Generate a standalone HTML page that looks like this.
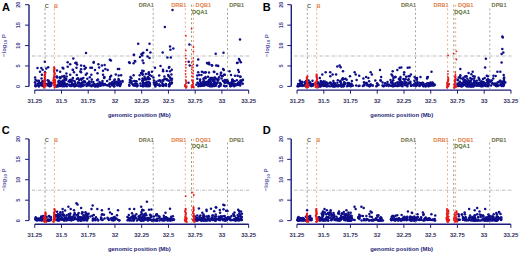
<!DOCTYPE html><html><head><meta charset="utf-8"><style>html,body{margin:0;padding:0;background:#fff;width:520px;height:255px;overflow:hidden}svg{display:block;font-family:"Liberation Sans",sans-serif}</style></head><body>
<svg width="520" height="255" viewBox="0 0 520 255">
<defs><g id="tpl"><path d="M29 4.70V86.40" stroke="#1c1c7c" stroke-width="1.4" fill="none"/><path d="M25 86.40H29" stroke="#1c1c7c" stroke-width="1" fill="none"/><text transform="translate(20.4 86.40) rotate(-90)" text-anchor="middle" font-size="5.6" font-weight="bold" fill="#3a3a8a">0</text><path d="M25 65.98H29" stroke="#1c1c7c" stroke-width="1" fill="none"/><text transform="translate(20.4 65.98) rotate(-90)" text-anchor="middle" font-size="5.6" font-weight="bold" fill="#3a3a8a">5</text><path d="M25 45.55H29" stroke="#1c1c7c" stroke-width="1" fill="none"/><text transform="translate(20.4 45.55) rotate(-90)" text-anchor="middle" font-size="5.6" font-weight="bold" fill="#3a3a8a">10</text><path d="M25 25.13H29" stroke="#1c1c7c" stroke-width="1" fill="none"/><text transform="translate(20.4 25.13) rotate(-90)" text-anchor="middle" font-size="5.6" font-weight="bold" fill="#3a3a8a">15</text><path d="M25 4.70H29" stroke="#1c1c7c" stroke-width="1" fill="none"/><text transform="translate(20.4 4.70) rotate(-90)" text-anchor="middle" font-size="5.6" font-weight="bold" fill="#3a3a8a">20</text><text transform="translate(6.2 45.6) rotate(-90)" text-anchor="middle" font-size="6.0" font-weight="bold" fill="#5a5aa8">&#8722;log<tspan font-size="4.2" dy="1.2">10</tspan><tspan dy="-1.2"> P</tspan></text><path d="M34.75 90.1H248.65" stroke="#1c1c7c" stroke-width="1.4" fill="none"/><path d="M34.75 90V93.7" stroke="#1c1c7c" stroke-width="1" fill="none"/><text x="34.75" y="102.6" text-anchor="middle" font-size="5.9" font-weight="bold" fill="#303060">31.25</text><path d="M61.49 90V93.7" stroke="#1c1c7c" stroke-width="1" fill="none"/><text x="61.49" y="102.6" text-anchor="middle" font-size="5.9" font-weight="bold" fill="#303060">31.5</text><path d="M88.22 90V93.7" stroke="#1c1c7c" stroke-width="1" fill="none"/><text x="88.22" y="102.6" text-anchor="middle" font-size="5.9" font-weight="bold" fill="#303060">31.75</text><path d="M114.96 90V93.7" stroke="#1c1c7c" stroke-width="1" fill="none"/><text x="114.96" y="102.6" text-anchor="middle" font-size="5.9" font-weight="bold" fill="#303060">32</text><path d="M141.70 90V93.7" stroke="#1c1c7c" stroke-width="1" fill="none"/><text x="141.70" y="102.6" text-anchor="middle" font-size="5.9" font-weight="bold" fill="#303060">32.25</text><path d="M168.44 90V93.7" stroke="#1c1c7c" stroke-width="1" fill="none"/><text x="168.44" y="102.6" text-anchor="middle" font-size="5.9" font-weight="bold" fill="#303060">32.5</text><path d="M195.18 90V93.7" stroke="#1c1c7c" stroke-width="1" fill="none"/><text x="195.18" y="102.6" text-anchor="middle" font-size="5.9" font-weight="bold" fill="#303060">32.75</text><path d="M221.91 90V93.7" stroke="#1c1c7c" stroke-width="1" fill="none"/><text x="221.91" y="102.6" text-anchor="middle" font-size="5.9" font-weight="bold" fill="#303060">33</text><path d="M248.65 90V93.7" stroke="#1c1c7c" stroke-width="1" fill="none"/><text x="248.65" y="102.6" text-anchor="middle" font-size="5.9" font-weight="bold" fill="#303060">33.25</text><text x="139.4" y="116.8" text-anchor="middle" font-size="5.9" font-weight="bold" fill="#1e1e78">genomic position (Mb)</text><path d="M32 56H250" stroke="#9a9a9a" stroke-width="0.7" stroke-dasharray="3 1.3 0.7 1.3" fill="none"/><path d="M45.0 8.5V89" stroke="#606050" stroke-width="0.75" stroke-dasharray="1.8 2.6" fill="none" opacity="0.9"/><text x="44.7" y="7.5" text-anchor="start" font-size="5.6" font-weight="bold" fill="#606050">C</text><path d="M54.4 8.5V89" stroke="#e08048" stroke-width="0.75" stroke-dasharray="1.8 2.6" fill="none" opacity="0.9"/><text x="54.1" y="7.5" text-anchor="start" font-size="5.6" font-weight="bold" fill="#e08048">B</text><path d="M153.2 8.5V89" stroke="#70704a" stroke-width="0.75" stroke-dasharray="1.8 2.6" fill="none" opacity="0.9"/><text x="153.9" y="7.4" text-anchor="end" font-size="5.6" font-weight="bold" fill="#70704a">DRA1</text><path d="M185.3 8.5V89" stroke="#e08048" stroke-width="0.75" stroke-dasharray="1.8 2.6" fill="none" opacity="0.9"/><text x="186.4" y="7.4" text-anchor="end" font-size="5.6" font-weight="bold" fill="#e08048">DRB1</text><path d="M191.5 4.8V89" stroke="#4f6b2a" stroke-width="0.75" stroke-dasharray="1.8 2.6" fill="none" opacity="0.9"/><text x="192.0" y="13.8" text-anchor="start" font-size="5.6" font-weight="bold" fill="#4f6b2a">DQA1</text><path d="M193.4 4.8V89" stroke="#e08048" stroke-width="0.75" stroke-dasharray="1.8 2.6" fill="none" opacity="0.9"/><text x="195.6" y="7.4" text-anchor="start" font-size="5.6" font-weight="bold" fill="#e08048">DQB1</text><path d="M227.5 8.5V89" stroke="#70704a" stroke-width="0.75" stroke-dasharray="1.8 2.6" fill="none" opacity="0.9"/><text x="229.3" y="7.4" text-anchor="start" font-size="5.6" font-weight="bold" fill="#70704a">DPB1</text></g></defs>
<g transform="translate(0 0)">
<use href="#tpl"/>
<g fill="#0e0e88"><circle cx="172.5" cy="10.0" r="1.25"/><circle cx="164.9" cy="26.9" r="1.25"/><circle cx="240.0" cy="39.5" r="1.25"/><circle cx="138.2" cy="43.8" r="1.25"/><circle cx="149.5" cy="43.8" r="1.25"/><circle cx="147.0" cy="50.0" r="1.25"/><circle cx="150.4" cy="52.6" r="1.25"/><circle cx="142.6" cy="53.2" r="1.25"/><circle cx="141.5" cy="54.3" r="1.25"/><circle cx="143.4" cy="52.8" r="1.25"/><circle cx="142.2" cy="55.5" r="1.25"/><circle cx="134.0" cy="54.8" r="1.25"/><circle cx="140.0" cy="57.0" r="1.25"/><circle cx="147.6" cy="56.6" r="1.25"/><circle cx="149.5" cy="57.9" r="1.25"/><circle cx="134.8" cy="61.1" r="1.25"/><circle cx="142.6" cy="60.4" r="1.25"/><circle cx="162.7" cy="52.6" r="1.25"/><circle cx="170.0" cy="46.6" r="1.25"/><circle cx="170.4" cy="49.8" r="1.25"/><circle cx="173.3" cy="48.6" r="1.25"/><circle cx="167.4" cy="57.6" r="1.25"/><circle cx="170.8" cy="57.6" r="1.25"/><circle cx="189.4" cy="44.5" r="1.25"/><circle cx="215.7" cy="53.8" r="1.25"/><circle cx="223.5" cy="52.8" r="1.25"/><circle cx="198.2" cy="59.5" r="1.25"/><circle cx="188.7" cy="61.7" r="1.25"/><circle cx="208.9" cy="62.8" r="1.25"/><circle cx="239.0" cy="59.0" r="1.25"/><circle cx="86.0" cy="53.0" r="1.25"/><circle cx="110.9" cy="60.6" r="1.25"/><circle cx="109.8" cy="59.8" r="1.25"/><circle cx="44.8" cy="61.7" r="1.25"/><circle cx="73.3" cy="58.5" r="1.25"/><circle cx="67.7" cy="62.3" r="1.25"/><circle cx="75.9" cy="62.9" r="1.25"/><circle cx="93.8" cy="61.9" r="1.25"/><circle cx="129.2" cy="62.3" r="1.25"/><circle cx="133.8" cy="55.0" r="1.25"/><circle cx="237.6" cy="62.8" r="1.25"/><circle cx="240.8" cy="62.3" r="1.25"/><circle cx="239.8" cy="60.6" r="1.25"/><circle cx="37.5" cy="67.9" r="1.25"/><circle cx="41.3" cy="67.9" r="1.25"/><circle cx="40.0" cy="71.7" r="1.25"/><circle cx="42.6" cy="69.8" r="1.25"/><circle cx="46.3" cy="68.6" r="1.25"/><circle cx="48.2" cy="67.3" r="1.25"/><circle cx="41.9" cy="74.8" r="1.25"/><circle cx="45.0" cy="72.3" r="1.25"/><circle cx="57.0" cy="70.4" r="1.25"/><circle cx="60.2" cy="71.7" r="1.25"/><circle cx="63.3" cy="68.6" r="1.25"/><circle cx="70.2" cy="64.2" r="1.25"/><circle cx="67.7" cy="66.7" r="1.25"/><circle cx="72.7" cy="69.8" r="1.25"/><circle cx="66.4" cy="73.6" r="1.25"/><circle cx="70.2" cy="74.8" r="1.25"/><circle cx="74.0" cy="72.3" r="1.25"/><circle cx="76.4" cy="62.7" r="1.25"/><circle cx="77.1" cy="64.5" r="1.25"/><circle cx="93.6" cy="62.7" r="1.25"/><circle cx="84.2" cy="66.1" r="1.25"/><circle cx="85.8" cy="67.7" r="1.25"/><circle cx="81.1" cy="69.3" r="1.25"/><circle cx="80.3" cy="71.6" r="1.25"/><circle cx="92.0" cy="67.7" r="1.25"/><circle cx="99.1" cy="67.4" r="1.25"/><circle cx="104.6" cy="64.9" r="1.25"/><circle cx="103.0" cy="70.8" r="1.25"/><circle cx="107.7" cy="70.0" r="1.25"/><circle cx="117.9" cy="68.9" r="1.25"/><circle cx="97.5" cy="73.2" r="1.25"/><circle cx="103.0" cy="74.7" r="1.25"/><circle cx="110.1" cy="77.1" r="1.25"/><circle cx="118.7" cy="75.5" r="1.25"/><circle cx="121.1" cy="75.2" r="1.25"/><circle cx="130.5" cy="77.1" r="1.25"/><circle cx="133.6" cy="75.2" r="1.25"/><circle cx="91.3" cy="74.7" r="1.25"/><circle cx="85.8" cy="74.7" r="1.25"/><circle cx="135.2" cy="61.4" r="1.25"/><circle cx="133.6" cy="63.3" r="1.25"/><circle cx="129.7" cy="63.0" r="1.25"/><circle cx="62.6" cy="67.7" r="1.25"/><circle cx="75.3" cy="63.1" r="1.25"/><circle cx="76.5" cy="67.7" r="1.25"/><circle cx="73.0" cy="70.0" r="1.25"/><circle cx="81.1" cy="65.4" r="1.25"/><circle cx="84.6" cy="68.9" r="1.25"/><circle cx="81.1" cy="72.3" r="1.25"/><circle cx="86.9" cy="73.5" r="1.25"/><circle cx="90.4" cy="67.7" r="1.25"/><circle cx="95.0" cy="70.0" r="1.25"/><circle cx="98.4" cy="64.2" r="1.25"/><circle cx="101.9" cy="65.4" r="1.25"/><circle cx="105.4" cy="68.9" r="1.25"/><circle cx="119.2" cy="68.9" r="1.25"/><circle cx="111.1" cy="75.8" r="1.25"/><circle cx="115.8" cy="74.6" r="1.25"/><circle cx="143.5" cy="63.1" r="1.25"/><circle cx="155.0" cy="67.7" r="1.25"/><circle cx="163.1" cy="71.2" r="1.25"/><circle cx="168.9" cy="67.7" r="1.25"/><circle cx="170.0" cy="71.2" r="1.25"/><circle cx="207.0" cy="63.1" r="1.25"/><circle cx="209.3" cy="64.2" r="1.25"/><circle cx="216.2" cy="65.4" r="1.25"/><circle cx="223.1" cy="68.9" r="1.25"/><circle cx="237.0" cy="63.1" r="1.25"/><circle cx="238.2" cy="70.0" r="1.25"/><circle cx="240.5" cy="80.4" r="1.25"/><circle cx="197.1" cy="65.4" r="1.25"/><circle cx="207.6" cy="63.6" r="1.25"/><circle cx="212.0" cy="65.4" r="1.25"/><circle cx="218.2" cy="66.1" r="1.25"/><circle cx="160.5" cy="66.1" r="1.25"/><circle cx="169.3" cy="67.1" r="1.25"/><circle cx="163.0" cy="69.8" r="1.25"/><circle cx="166.8" cy="71.1" r="1.25"/><circle cx="171.8" cy="69.8" r="1.25"/><circle cx="198.2" cy="72.3" r="1.25"/><circle cx="201.9" cy="71.7" r="1.25"/><circle cx="205.7" cy="72.3" r="1.25"/><circle cx="213.8" cy="71.7" r="1.25"/><circle cx="217.8" cy="65.7" r="1.25"/><circle cx="211.9" cy="65.3" r="1.25"/><circle cx="223.8" cy="70.0" r="1.25"/><circle cx="214.4" cy="72.0" r="1.25"/><circle cx="229.5" cy="71.3" r="1.25"/><circle cx="238.9" cy="72.0" r="1.25"/><circle cx="237.6" cy="75.7" r="1.25"/><circle cx="188.5" cy="82.7" r="1.25"/><circle cx="189.7" cy="65.4" r="1.25"/><circle cx="49.4" cy="86.0" r="1.25"/><circle cx="39.3" cy="82.3" r="1.25"/><circle cx="42.6" cy="84.4" r="1.25"/><circle cx="48.4" cy="83.4" r="1.25"/><circle cx="35.5" cy="86.1" r="1.25"/><circle cx="42.4" cy="81.2" r="1.25"/><circle cx="35.0" cy="82.3" r="1.25"/><circle cx="47.3" cy="84.7" r="1.25"/><circle cx="51.1" cy="85.7" r="1.25"/><circle cx="35.5" cy="79.8" r="1.25"/><circle cx="44.2" cy="86.3" r="1.25"/><circle cx="41.5" cy="78.4" r="1.25"/><circle cx="42.2" cy="85.7" r="1.25"/><circle cx="38.8" cy="86.3" r="1.25"/><circle cx="43.4" cy="84.8" r="1.25"/><circle cx="38.9" cy="85.6" r="1.25"/><circle cx="42.8" cy="85.7" r="1.25"/><circle cx="35.4" cy="85.4" r="1.25"/><circle cx="44.5" cy="81.2" r="1.25"/><circle cx="38.2" cy="83.5" r="1.25"/><circle cx="37.1" cy="80.8" r="1.25"/><circle cx="47.3" cy="85.2" r="1.25"/><circle cx="50.9" cy="82.8" r="1.25"/><circle cx="49.1" cy="84.8" r="1.25"/><circle cx="40.2" cy="83.2" r="1.25"/><circle cx="50.0" cy="83.9" r="1.25"/><circle cx="43.6" cy="81.0" r="1.25"/><circle cx="35.6" cy="83.9" r="1.25"/><circle cx="48.6" cy="85.6" r="1.25"/><circle cx="37.9" cy="84.9" r="1.25"/><circle cx="47.0" cy="84.1" r="1.25"/><circle cx="41.4" cy="83.2" r="1.25"/><circle cx="43.6" cy="84.7" r="1.25"/><circle cx="43.9" cy="82.1" r="1.25"/><circle cx="43.3" cy="85.0" r="1.25"/><circle cx="35.7" cy="86.3" r="1.25"/><circle cx="51.7" cy="82.9" r="1.25"/><circle cx="41.7" cy="83.8" r="1.25"/><circle cx="43.5" cy="85.9" r="1.25"/><circle cx="44.2" cy="82.2" r="1.25"/><circle cx="38.9" cy="80.8" r="1.25"/><circle cx="51.2" cy="84.3" r="1.25"/><circle cx="42.8" cy="83.9" r="1.25"/><circle cx="44.3" cy="85.5" r="1.25"/><circle cx="35.1" cy="77.4" r="1.25"/><circle cx="48.9" cy="82.0" r="1.25"/><circle cx="47.6" cy="80.2" r="1.25"/><circle cx="43.8" cy="81.7" r="1.25"/><circle cx="42.2" cy="84.0" r="1.25"/><circle cx="49.8" cy="86.2" r="1.25"/><circle cx="38.4" cy="84.0" r="1.25"/><circle cx="43.2" cy="84.4" r="1.25"/><circle cx="40.9" cy="85.1" r="1.25"/><circle cx="45.6" cy="84.2" r="1.25"/><circle cx="42.8" cy="83.7" r="1.25"/><circle cx="38.9" cy="86.3" r="1.25"/><circle cx="44.9" cy="85.8" r="1.25"/><circle cx="48.6" cy="80.8" r="1.25"/><circle cx="48.9" cy="81.8" r="1.25"/><circle cx="49.3" cy="85.6" r="1.25"/><circle cx="58.3" cy="81.8" r="1.25"/><circle cx="56.4" cy="86.3" r="1.25"/><circle cx="63.0" cy="80.6" r="1.25"/><circle cx="73.5" cy="85.9" r="1.25"/><circle cx="57.9" cy="84.7" r="1.25"/><circle cx="70.8" cy="85.7" r="1.25"/><circle cx="63.6" cy="85.6" r="1.25"/><circle cx="68.7" cy="81.3" r="1.25"/><circle cx="69.3" cy="84.8" r="1.25"/><circle cx="66.8" cy="86.3" r="1.25"/><circle cx="61.3" cy="84.2" r="1.25"/><circle cx="81.2" cy="85.9" r="1.25"/><circle cx="61.9" cy="83.5" r="1.25"/><circle cx="78.9" cy="82.6" r="1.25"/><circle cx="56.5" cy="86.3" r="1.25"/><circle cx="76.1" cy="85.8" r="1.25"/><circle cx="75.7" cy="85.7" r="1.25"/><circle cx="71.3" cy="81.8" r="1.25"/><circle cx="83.3" cy="85.4" r="1.25"/><circle cx="70.5" cy="79.9" r="1.25"/><circle cx="74.2" cy="85.4" r="1.25"/><circle cx="72.1" cy="84.3" r="1.25"/><circle cx="73.7" cy="84.8" r="1.25"/><circle cx="64.4" cy="86.2" r="1.25"/><circle cx="64.6" cy="77.9" r="1.25"/><circle cx="64.7" cy="78.4" r="1.25"/><circle cx="76.8" cy="75.0" r="1.25"/><circle cx="63.1" cy="84.2" r="1.25"/><circle cx="80.6" cy="86.4" r="1.25"/><circle cx="78.9" cy="86.2" r="1.25"/><circle cx="60.8" cy="82.9" r="1.25"/><circle cx="83.3" cy="78.1" r="1.25"/><circle cx="70.2" cy="81.4" r="1.25"/><circle cx="65.7" cy="84.5" r="1.25"/><circle cx="74.9" cy="85.5" r="1.25"/><circle cx="61.4" cy="84.1" r="1.25"/><circle cx="74.6" cy="85.9" r="1.25"/><circle cx="70.0" cy="85.0" r="1.25"/><circle cx="80.4" cy="84.8" r="1.25"/><circle cx="56.5" cy="77.0" r="1.25"/><circle cx="65.2" cy="85.5" r="1.25"/><circle cx="65.5" cy="80.2" r="1.25"/><circle cx="74.9" cy="85.4" r="1.25"/><circle cx="82.1" cy="79.0" r="1.25"/><circle cx="80.7" cy="84.7" r="1.25"/><circle cx="69.6" cy="81.7" r="1.25"/><circle cx="76.3" cy="85.3" r="1.25"/><circle cx="60.8" cy="86.0" r="1.25"/><circle cx="62.0" cy="76.5" r="1.25"/><circle cx="72.8" cy="80.6" r="1.25"/><circle cx="66.3" cy="78.9" r="1.25"/><circle cx="64.2" cy="84.7" r="1.25"/><circle cx="72.9" cy="78.1" r="1.25"/><circle cx="59.8" cy="77.5" r="1.25"/><circle cx="58.9" cy="83.1" r="1.25"/><circle cx="58.0" cy="86.2" r="1.25"/><circle cx="78.1" cy="78.2" r="1.25"/><circle cx="65.5" cy="79.2" r="1.25"/><circle cx="77.9" cy="82.5" r="1.25"/><circle cx="72.0" cy="84.5" r="1.25"/><circle cx="58.3" cy="85.4" r="1.25"/><circle cx="80.9" cy="85.1" r="1.25"/><circle cx="81.9" cy="83.0" r="1.25"/><circle cx="63.8" cy="83.9" r="1.25"/><circle cx="79.2" cy="80.1" r="1.25"/><circle cx="74.8" cy="86.3" r="1.25"/><circle cx="59.2" cy="86.0" r="1.25"/><circle cx="57.1" cy="77.6" r="1.25"/><circle cx="83.7" cy="85.3" r="1.25"/><circle cx="59.2" cy="84.2" r="1.25"/><circle cx="62.8" cy="85.7" r="1.25"/><circle cx="58.9" cy="80.8" r="1.25"/><circle cx="66.6" cy="76.5" r="1.25"/><circle cx="64.2" cy="76.6" r="1.25"/><circle cx="69.4" cy="85.2" r="1.25"/><circle cx="74.3" cy="86.0" r="1.25"/><circle cx="56.3" cy="86.2" r="1.25"/><circle cx="72.7" cy="85.0" r="1.25"/><circle cx="64.8" cy="84.0" r="1.25"/><circle cx="81.6" cy="86.1" r="1.25"/><circle cx="62.0" cy="85.9" r="1.25"/><circle cx="83.4" cy="82.5" r="1.25"/><circle cx="75.3" cy="83.2" r="1.25"/><circle cx="63.3" cy="82.0" r="1.25"/><circle cx="64.6" cy="83.2" r="1.25"/><circle cx="58.3" cy="85.2" r="1.25"/><circle cx="83.5" cy="85.1" r="1.25"/><circle cx="74.3" cy="84.0" r="1.25"/><circle cx="82.3" cy="82.2" r="1.25"/><circle cx="64.6" cy="84.4" r="1.25"/><circle cx="64.9" cy="84.8" r="1.25"/><circle cx="81.0" cy="78.7" r="1.25"/><circle cx="65.4" cy="84.9" r="1.25"/><circle cx="72.2" cy="83.2" r="1.25"/><circle cx="62.9" cy="82.7" r="1.25"/><circle cx="62.8" cy="86.3" r="1.25"/><circle cx="71.4" cy="86.1" r="1.25"/><circle cx="58.1" cy="86.1" r="1.25"/><circle cx="64.1" cy="82.3" r="1.25"/><circle cx="69.8" cy="80.0" r="1.25"/><circle cx="60.3" cy="78.3" r="1.25"/><circle cx="78.3" cy="83.6" r="1.25"/><circle cx="82.6" cy="86.1" r="1.25"/><circle cx="77.7" cy="85.6" r="1.25"/><circle cx="65.0" cy="79.4" r="1.25"/><circle cx="70.4" cy="85.9" r="1.25"/><circle cx="64.2" cy="76.1" r="1.25"/><circle cx="60.0" cy="77.2" r="1.25"/><circle cx="56.9" cy="76.5" r="1.25"/><circle cx="81.3" cy="84.8" r="1.25"/><circle cx="81.4" cy="79.7" r="1.25"/><circle cx="76.9" cy="78.9" r="1.25"/><circle cx="61.0" cy="81.6" r="1.25"/><circle cx="60.4" cy="84.1" r="1.25"/><circle cx="74.7" cy="81.3" r="1.25"/><circle cx="57.8" cy="85.2" r="1.25"/><circle cx="71.4" cy="79.7" r="1.25"/><circle cx="79.8" cy="83.2" r="1.25"/><circle cx="67.1" cy="83.9" r="1.25"/><circle cx="63.2" cy="84.7" r="1.25"/><circle cx="97.6" cy="86.3" r="1.25"/><circle cx="96.0" cy="84.4" r="1.25"/><circle cx="91.5" cy="86.2" r="1.25"/><circle cx="86.6" cy="85.9" r="1.25"/><circle cx="101.4" cy="85.3" r="1.25"/><circle cx="92.4" cy="84.5" r="1.25"/><circle cx="88.9" cy="82.9" r="1.25"/><circle cx="95.1" cy="86.4" r="1.25"/><circle cx="97.6" cy="83.8" r="1.25"/><circle cx="98.4" cy="84.3" r="1.25"/><circle cx="89.0" cy="81.6" r="1.25"/><circle cx="94.1" cy="83.9" r="1.25"/><circle cx="92.7" cy="85.5" r="1.25"/><circle cx="103.0" cy="83.4" r="1.25"/><circle cx="89.8" cy="77.2" r="1.25"/><circle cx="85.0" cy="82.6" r="1.25"/><circle cx="94.7" cy="86.1" r="1.25"/><circle cx="87.3" cy="78.7" r="1.25"/><circle cx="102.5" cy="81.1" r="1.25"/><circle cx="98.5" cy="85.0" r="1.25"/><circle cx="91.8" cy="79.4" r="1.25"/><circle cx="99.5" cy="82.0" r="1.25"/><circle cx="102.0" cy="83.1" r="1.25"/><circle cx="104.2" cy="78.1" r="1.25"/><circle cx="87.7" cy="83.3" r="1.25"/><circle cx="88.6" cy="85.3" r="1.25"/><circle cx="99.9" cy="83.3" r="1.25"/><circle cx="98.3" cy="86.2" r="1.25"/><circle cx="91.3" cy="81.8" r="1.25"/><circle cx="87.5" cy="83.7" r="1.25"/><circle cx="84.9" cy="81.6" r="1.25"/><circle cx="97.2" cy="80.3" r="1.25"/><circle cx="103.2" cy="85.3" r="1.25"/><circle cx="100.3" cy="85.8" r="1.25"/><circle cx="97.9" cy="79.6" r="1.25"/><circle cx="93.3" cy="82.0" r="1.25"/><circle cx="104.4" cy="76.9" r="1.25"/><circle cx="100.9" cy="84.6" r="1.25"/><circle cx="87.5" cy="84.3" r="1.25"/><circle cx="86.7" cy="85.0" r="1.25"/><circle cx="104.1" cy="77.6" r="1.25"/><circle cx="96.6" cy="85.9" r="1.25"/><circle cx="86.5" cy="84.5" r="1.25"/><circle cx="89.2" cy="85.1" r="1.25"/><circle cx="84.1" cy="81.3" r="1.25"/><circle cx="93.2" cy="85.6" r="1.25"/><circle cx="97.2" cy="86.3" r="1.25"/><circle cx="101.5" cy="83.0" r="1.25"/><circle cx="90.0" cy="85.5" r="1.25"/><circle cx="89.7" cy="83.5" r="1.25"/><circle cx="109.5" cy="83.5" r="1.25"/><circle cx="119.2" cy="82.6" r="1.25"/><circle cx="122.5" cy="81.0" r="1.25"/><circle cx="113.8" cy="83.8" r="1.25"/><circle cx="118.8" cy="80.1" r="1.25"/><circle cx="111.9" cy="83.6" r="1.25"/><circle cx="106.9" cy="85.3" r="1.25"/><circle cx="107.1" cy="81.0" r="1.25"/><circle cx="114.8" cy="81.9" r="1.25"/><circle cx="122.5" cy="81.7" r="1.25"/><circle cx="114.0" cy="85.9" r="1.25"/><circle cx="110.6" cy="83.6" r="1.25"/><circle cx="111.4" cy="84.1" r="1.25"/><circle cx="105.0" cy="83.9" r="1.25"/><circle cx="113.1" cy="84.5" r="1.25"/><circle cx="112.2" cy="85.2" r="1.25"/><circle cx="117.3" cy="81.4" r="1.25"/><circle cx="116.7" cy="84.2" r="1.25"/><circle cx="108.7" cy="84.9" r="1.25"/><circle cx="110.0" cy="86.4" r="1.25"/><circle cx="120.9" cy="83.4" r="1.25"/><circle cx="114.2" cy="80.6" r="1.25"/><circle cx="120.0" cy="84.4" r="1.25"/><circle cx="118.4" cy="84.7" r="1.25"/><circle cx="108.1" cy="85.2" r="1.25"/><circle cx="114.6" cy="83.2" r="1.25"/><circle cx="105.1" cy="84.9" r="1.25"/><circle cx="112.7" cy="84.8" r="1.25"/><circle cx="120.5" cy="84.7" r="1.25"/><circle cx="118.2" cy="83.5" r="1.25"/><circle cx="118.5" cy="78.9" r="1.25"/><circle cx="118.4" cy="84.2" r="1.25"/><circle cx="116.7" cy="83.1" r="1.25"/><circle cx="112.3" cy="83.2" r="1.25"/><circle cx="116.4" cy="83.2" r="1.25"/><circle cx="120.2" cy="81.4" r="1.25"/><circle cx="119.7" cy="81.6" r="1.25"/><circle cx="111.3" cy="83.4" r="1.25"/><circle cx="117.7" cy="85.4" r="1.25"/><circle cx="114.8" cy="79.6" r="1.25"/><circle cx="120.0" cy="85.9" r="1.25"/><circle cx="113.4" cy="84.2" r="1.25"/><circle cx="114.2" cy="86.2" r="1.25"/><circle cx="112.6" cy="81.9" r="1.25"/><circle cx="116.8" cy="85.0" r="1.25"/><circle cx="114.1" cy="86.3" r="1.25"/><circle cx="112.2" cy="82.6" r="1.25"/><circle cx="115.9" cy="82.6" r="1.25"/><circle cx="108.7" cy="85.6" r="1.25"/><circle cx="109.8" cy="79.3" r="1.25"/><circle cx="136.3" cy="86.1" r="1.25"/><circle cx="131.7" cy="83.4" r="1.25"/><circle cx="135.4" cy="83.5" r="1.25"/><circle cx="134.5" cy="85.6" r="1.25"/><circle cx="136.2" cy="81.3" r="1.25"/><circle cx="134.1" cy="85.1" r="1.25"/><circle cx="133.6" cy="85.3" r="1.25"/><circle cx="135.9" cy="85.6" r="1.25"/><circle cx="131.3" cy="78.2" r="1.25"/><circle cx="137.6" cy="85.4" r="1.25"/><circle cx="136.4" cy="81.4" r="1.25"/><circle cx="137.0" cy="86.3" r="1.25"/><circle cx="131.2" cy="82.4" r="1.25"/><circle cx="135.6" cy="84.1" r="1.25"/><circle cx="129.9" cy="80.1" r="1.25"/><circle cx="129.7" cy="82.4" r="1.25"/><circle cx="137.1" cy="84.0" r="1.25"/><circle cx="134.1" cy="81.1" r="1.25"/><circle cx="133.3" cy="85.2" r="1.25"/><circle cx="129.4" cy="85.8" r="1.25"/><circle cx="131.6" cy="81.3" r="1.25"/><circle cx="130.4" cy="80.7" r="1.25"/><circle cx="135.2" cy="81.2" r="1.25"/><circle cx="129.1" cy="84.9" r="1.25"/><circle cx="132.9" cy="84.3" r="1.25"/><circle cx="140.6" cy="85.8" r="1.25"/><circle cx="146.4" cy="86.1" r="1.25"/><circle cx="141.0" cy="72.9" r="1.25"/><circle cx="147.9" cy="86.2" r="1.25"/><circle cx="151.5" cy="76.1" r="1.25"/><circle cx="142.8" cy="80.6" r="1.25"/><circle cx="139.7" cy="75.3" r="1.25"/><circle cx="139.3" cy="79.2" r="1.25"/><circle cx="144.9" cy="83.3" r="1.25"/><circle cx="140.4" cy="83.5" r="1.25"/><circle cx="149.5" cy="84.8" r="1.25"/><circle cx="146.1" cy="82.6" r="1.25"/><circle cx="148.0" cy="84.9" r="1.25"/><circle cx="146.3" cy="83.9" r="1.25"/><circle cx="151.9" cy="71.7" r="1.25"/><circle cx="149.2" cy="86.1" r="1.25"/><circle cx="142.5" cy="74.5" r="1.25"/><circle cx="146.1" cy="83.4" r="1.25"/><circle cx="143.6" cy="71.0" r="1.25"/><circle cx="148.6" cy="73.4" r="1.25"/><circle cx="149.3" cy="85.2" r="1.25"/><circle cx="143.2" cy="86.3" r="1.25"/><circle cx="142.5" cy="78.4" r="1.25"/><circle cx="143.0" cy="82.9" r="1.25"/><circle cx="148.7" cy="81.8" r="1.25"/><circle cx="142.5" cy="86.1" r="1.25"/><circle cx="142.3" cy="72.9" r="1.25"/><circle cx="142.9" cy="84.0" r="1.25"/><circle cx="142.2" cy="85.7" r="1.25"/><circle cx="148.0" cy="78.9" r="1.25"/><circle cx="148.8" cy="77.9" r="1.25"/><circle cx="145.1" cy="78.4" r="1.25"/><circle cx="149.8" cy="79.1" r="1.25"/><circle cx="143.9" cy="78.9" r="1.25"/><circle cx="149.5" cy="85.9" r="1.25"/><circle cx="144.8" cy="79.8" r="1.25"/><circle cx="146.5" cy="79.6" r="1.25"/><circle cx="142.5" cy="81.0" r="1.25"/><circle cx="145.3" cy="83.2" r="1.25"/><circle cx="149.0" cy="84.8" r="1.25"/><circle cx="147.3" cy="82.3" r="1.25"/><circle cx="147.9" cy="77.2" r="1.25"/><circle cx="148.0" cy="77.0" r="1.25"/><circle cx="149.8" cy="84.3" r="1.25"/><circle cx="149.3" cy="85.2" r="1.25"/><circle cx="148.8" cy="72.2" r="1.25"/><circle cx="142.7" cy="86.0" r="1.25"/><circle cx="145.8" cy="74.1" r="1.25"/><circle cx="149.9" cy="83.0" r="1.25"/><circle cx="146.3" cy="86.1" r="1.25"/><circle cx="143.0" cy="82.1" r="1.25"/><circle cx="147.7" cy="82.7" r="1.25"/><circle cx="142.2" cy="70.7" r="1.25"/><circle cx="142.7" cy="80.9" r="1.25"/><circle cx="142.7" cy="74.6" r="1.25"/><circle cx="145.1" cy="86.1" r="1.25"/><circle cx="144.5" cy="76.7" r="1.25"/><circle cx="148.4" cy="85.4" r="1.25"/><circle cx="148.8" cy="74.3" r="1.25"/><circle cx="145.4" cy="83.7" r="1.25"/><circle cx="146.5" cy="84.3" r="1.25"/><circle cx="144.7" cy="83.5" r="1.25"/><circle cx="149.7" cy="75.1" r="1.25"/><circle cx="142.8" cy="79.9" r="1.25"/><circle cx="145.6" cy="78.6" r="1.25"/><circle cx="168.9" cy="80.7" r="1.25"/><circle cx="163.2" cy="81.0" r="1.25"/><circle cx="168.8" cy="76.2" r="1.25"/><circle cx="156.0" cy="84.9" r="1.25"/><circle cx="162.9" cy="84.3" r="1.25"/><circle cx="159.6" cy="85.9" r="1.25"/><circle cx="153.8" cy="82.6" r="1.25"/><circle cx="165.4" cy="78.8" r="1.25"/><circle cx="158.7" cy="84.7" r="1.25"/><circle cx="159.2" cy="84.4" r="1.25"/><circle cx="162.5" cy="80.2" r="1.25"/><circle cx="155.8" cy="83.0" r="1.25"/><circle cx="159.2" cy="75.4" r="1.25"/><circle cx="154.3" cy="84.6" r="1.25"/><circle cx="170.3" cy="83.5" r="1.25"/><circle cx="171.4" cy="74.6" r="1.25"/><circle cx="170.6" cy="78.8" r="1.25"/><circle cx="168.2" cy="74.9" r="1.25"/><circle cx="163.0" cy="85.8" r="1.25"/><circle cx="171.9" cy="82.5" r="1.25"/><circle cx="166.4" cy="79.5" r="1.25"/><circle cx="159.9" cy="80.2" r="1.25"/><circle cx="160.6" cy="81.8" r="1.25"/><circle cx="171.6" cy="83.6" r="1.25"/><circle cx="156.2" cy="83.0" r="1.25"/><circle cx="166.1" cy="85.7" r="1.25"/><circle cx="170.2" cy="82.7" r="1.25"/><circle cx="160.8" cy="85.5" r="1.25"/><circle cx="154.0" cy="80.6" r="1.25"/><circle cx="163.4" cy="85.9" r="1.25"/><circle cx="155.0" cy="85.0" r="1.25"/><circle cx="165.0" cy="85.0" r="1.25"/><circle cx="154.5" cy="83.0" r="1.25"/><circle cx="169.2" cy="86.1" r="1.25"/><circle cx="156.3" cy="81.8" r="1.25"/><circle cx="153.4" cy="77.5" r="1.25"/><circle cx="169.1" cy="84.3" r="1.25"/><circle cx="158.4" cy="80.8" r="1.25"/><circle cx="164.4" cy="76.4" r="1.25"/><circle cx="170.0" cy="77.4" r="1.25"/><circle cx="165.8" cy="83.9" r="1.25"/><circle cx="170.9" cy="82.9" r="1.25"/><circle cx="166.8" cy="79.2" r="1.25"/><circle cx="172.0" cy="78.8" r="1.25"/><circle cx="156.8" cy="85.1" r="1.25"/><circle cx="167.6" cy="80.2" r="1.25"/><circle cx="162.3" cy="83.2" r="1.25"/><circle cx="169.8" cy="84.1" r="1.25"/><circle cx="164.1" cy="79.3" r="1.25"/><circle cx="169.2" cy="86.2" r="1.25"/><circle cx="156.6" cy="83.6" r="1.25"/><circle cx="166.1" cy="84.8" r="1.25"/><circle cx="155.3" cy="86.4" r="1.25"/><circle cx="169.9" cy="84.8" r="1.25"/><circle cx="171.4" cy="80.2" r="1.25"/><circle cx="204.0" cy="81.6" r="1.25"/><circle cx="203.4" cy="81.5" r="1.25"/><circle cx="207.5" cy="81.6" r="1.25"/><circle cx="204.8" cy="83.2" r="1.25"/><circle cx="200.2" cy="84.1" r="1.25"/><circle cx="204.2" cy="82.1" r="1.25"/><circle cx="209.7" cy="81.5" r="1.25"/><circle cx="204.9" cy="85.3" r="1.25"/><circle cx="203.9" cy="78.2" r="1.25"/><circle cx="201.6" cy="83.6" r="1.25"/><circle cx="205.4" cy="72.6" r="1.25"/><circle cx="209.0" cy="72.4" r="1.25"/><circle cx="201.4" cy="74.9" r="1.25"/><circle cx="207.1" cy="82.6" r="1.25"/><circle cx="206.5" cy="83.5" r="1.25"/><circle cx="200.7" cy="82.4" r="1.25"/><circle cx="197.6" cy="82.7" r="1.25"/><circle cx="201.8" cy="83.7" r="1.25"/><circle cx="198.4" cy="86.3" r="1.25"/><circle cx="208.0" cy="84.6" r="1.25"/><circle cx="200.0" cy="80.9" r="1.25"/><circle cx="203.2" cy="84.6" r="1.25"/><circle cx="205.7" cy="78.2" r="1.25"/><circle cx="206.9" cy="82.9" r="1.25"/><circle cx="206.0" cy="82.3" r="1.25"/><circle cx="209.6" cy="82.3" r="1.25"/><circle cx="197.3" cy="78.7" r="1.25"/><circle cx="209.5" cy="85.6" r="1.25"/><circle cx="196.4" cy="84.8" r="1.25"/><circle cx="202.7" cy="84.6" r="1.25"/><circle cx="206.1" cy="83.3" r="1.25"/><circle cx="197.2" cy="75.4" r="1.25"/><circle cx="209.9" cy="80.6" r="1.25"/><circle cx="203.5" cy="81.5" r="1.25"/><circle cx="209.2" cy="83.8" r="1.25"/><circle cx="203.7" cy="85.7" r="1.25"/><circle cx="205.4" cy="83.1" r="1.25"/><circle cx="199.7" cy="85.6" r="1.25"/><circle cx="202.7" cy="84.4" r="1.25"/><circle cx="208.0" cy="76.7" r="1.25"/><circle cx="205.5" cy="76.9" r="1.25"/><circle cx="201.5" cy="85.8" r="1.25"/><circle cx="200.1" cy="79.6" r="1.25"/><circle cx="208.7" cy="82.1" r="1.25"/><circle cx="208.0" cy="85.6" r="1.25"/><circle cx="201.4" cy="85.7" r="1.25"/><circle cx="203.3" cy="85.0" r="1.25"/><circle cx="208.4" cy="83.1" r="1.25"/><circle cx="202.9" cy="84.3" r="1.25"/><circle cx="203.6" cy="72.6" r="1.25"/><circle cx="206.6" cy="84.9" r="1.25"/><circle cx="202.8" cy="83.9" r="1.25"/><circle cx="209.8" cy="86.3" r="1.25"/><circle cx="209.0" cy="79.8" r="1.25"/><circle cx="203.6" cy="84.5" r="1.25"/><circle cx="206.6" cy="82.8" r="1.25"/><circle cx="199.2" cy="75.1" r="1.25"/><circle cx="205.9" cy="84.4" r="1.25"/><circle cx="197.8" cy="83.1" r="1.25"/><circle cx="203.9" cy="85.1" r="1.25"/><circle cx="209.4" cy="80.8" r="1.25"/><circle cx="204.5" cy="81.7" r="1.25"/><circle cx="201.8" cy="85.4" r="1.25"/><circle cx="205.7" cy="84.4" r="1.25"/><circle cx="199.0" cy="84.5" r="1.25"/><circle cx="202.6" cy="83.6" r="1.25"/><circle cx="204.5" cy="83.9" r="1.25"/><circle cx="208.3" cy="85.2" r="1.25"/><circle cx="203.5" cy="79.1" r="1.25"/><circle cx="200.6" cy="86.0" r="1.25"/><circle cx="215.2" cy="77.8" r="1.25"/><circle cx="217.1" cy="74.1" r="1.25"/><circle cx="213.9" cy="83.6" r="1.25"/><circle cx="211.0" cy="83.5" r="1.25"/><circle cx="212.1" cy="85.3" r="1.25"/><circle cx="214.3" cy="85.7" r="1.25"/><circle cx="214.5" cy="77.5" r="1.25"/><circle cx="211.8" cy="77.9" r="1.25"/><circle cx="214.5" cy="84.8" r="1.25"/><circle cx="210.0" cy="82.4" r="1.25"/><circle cx="212.4" cy="86.3" r="1.25"/><circle cx="210.7" cy="79.4" r="1.25"/><circle cx="215.4" cy="84.5" r="1.25"/><circle cx="214.8" cy="83.3" r="1.25"/><circle cx="210.2" cy="81.0" r="1.25"/><circle cx="211.1" cy="83.5" r="1.25"/><circle cx="216.2" cy="84.3" r="1.25"/><circle cx="210.3" cy="78.0" r="1.25"/><circle cx="215.8" cy="85.8" r="1.25"/><circle cx="212.5" cy="85.6" r="1.25"/><circle cx="210.4" cy="84.1" r="1.25"/><circle cx="211.1" cy="86.2" r="1.25"/><circle cx="217.5" cy="82.7" r="1.25"/><circle cx="211.9" cy="78.9" r="1.25"/><circle cx="212.2" cy="78.0" r="1.25"/><circle cx="212.6" cy="81.1" r="1.25"/><circle cx="216.4" cy="83.2" r="1.25"/><circle cx="216.7" cy="78.9" r="1.25"/><circle cx="217.0" cy="79.5" r="1.25"/><circle cx="215.4" cy="82.6" r="1.25"/><circle cx="214.2" cy="79.3" r="1.25"/><circle cx="214.3" cy="80.3" r="1.25"/><circle cx="217.2" cy="82.7" r="1.25"/><circle cx="214.4" cy="79.0" r="1.25"/><circle cx="214.1" cy="86.0" r="1.25"/><circle cx="211.7" cy="85.0" r="1.25"/><circle cx="214.4" cy="82.2" r="1.25"/><circle cx="212.2" cy="84.3" r="1.25"/><circle cx="213.8" cy="80.8" r="1.25"/><circle cx="210.8" cy="82.6" r="1.25"/><circle cx="229.8" cy="83.5" r="1.25"/><circle cx="227.8" cy="81.6" r="1.25"/><circle cx="231.0" cy="75.0" r="1.25"/><circle cx="218.5" cy="79.3" r="1.25"/><circle cx="230.3" cy="84.1" r="1.25"/><circle cx="234.4" cy="85.4" r="1.25"/><circle cx="233.8" cy="85.5" r="1.25"/><circle cx="233.1" cy="84.9" r="1.25"/><circle cx="224.0" cy="74.8" r="1.25"/><circle cx="220.9" cy="73.0" r="1.25"/><circle cx="224.9" cy="74.8" r="1.25"/><circle cx="220.1" cy="82.9" r="1.25"/><circle cx="222.9" cy="80.8" r="1.25"/><circle cx="232.4" cy="79.7" r="1.25"/><circle cx="218.1" cy="80.7" r="1.25"/><circle cx="224.8" cy="80.1" r="1.25"/><circle cx="233.9" cy="81.3" r="1.25"/><circle cx="232.0" cy="82.6" r="1.25"/><circle cx="225.6" cy="80.8" r="1.25"/><circle cx="228.9" cy="83.2" r="1.25"/><circle cx="226.5" cy="86.1" r="1.25"/><circle cx="230.7" cy="86.2" r="1.25"/><circle cx="218.8" cy="86.4" r="1.25"/><circle cx="220.5" cy="85.7" r="1.25"/><circle cx="224.4" cy="82.1" r="1.25"/><circle cx="235.7" cy="84.5" r="1.25"/><circle cx="232.4" cy="79.9" r="1.25"/><circle cx="222.4" cy="75.9" r="1.25"/><circle cx="222.3" cy="76.3" r="1.25"/><circle cx="224.4" cy="81.3" r="1.25"/><circle cx="232.0" cy="85.3" r="1.25"/><circle cx="233.8" cy="84.1" r="1.25"/><circle cx="229.8" cy="83.8" r="1.25"/><circle cx="219.0" cy="77.3" r="1.25"/><circle cx="224.8" cy="82.9" r="1.25"/><circle cx="232.7" cy="84.3" r="1.25"/><circle cx="230.6" cy="82.8" r="1.25"/><circle cx="227.3" cy="80.2" r="1.25"/><circle cx="230.1" cy="86.0" r="1.25"/><circle cx="221.1" cy="72.8" r="1.25"/><circle cx="226.8" cy="80.1" r="1.25"/><circle cx="230.8" cy="83.8" r="1.25"/><circle cx="234.2" cy="86.3" r="1.25"/><circle cx="233.0" cy="83.4" r="1.25"/><circle cx="230.9" cy="85.2" r="1.25"/><circle cx="224.0" cy="85.8" r="1.25"/><circle cx="232.1" cy="79.9" r="1.25"/><circle cx="226.5" cy="82.6" r="1.25"/><circle cx="231.9" cy="82.2" r="1.25"/><circle cx="221.5" cy="78.5" r="1.25"/><circle cx="227.8" cy="82.8" r="1.25"/><circle cx="234.7" cy="81.2" r="1.25"/><circle cx="220.7" cy="75.2" r="1.25"/><circle cx="220.0" cy="83.5" r="1.25"/><circle cx="219.3" cy="86.2" r="1.25"/><circle cx="231.8" cy="85.2" r="1.25"/><circle cx="232.4" cy="79.7" r="1.25"/><circle cx="220.8" cy="84.3" r="1.25"/><circle cx="235.0" cy="75.7" r="1.25"/><circle cx="225.1" cy="86.3" r="1.25"/><circle cx="241.2" cy="82.3" r="1.25"/><circle cx="239.8" cy="76.4" r="1.25"/><circle cx="236.0" cy="84.4" r="1.25"/><circle cx="242.9" cy="79.7" r="1.25"/><circle cx="240.6" cy="76.7" r="1.25"/><circle cx="237.7" cy="84.7" r="1.25"/><circle cx="242.5" cy="80.3" r="1.25"/><circle cx="240.1" cy="85.6" r="1.25"/><circle cx="239.0" cy="83.5" r="1.25"/><circle cx="242.6" cy="79.9" r="1.25"/><circle cx="240.9" cy="81.1" r="1.25"/><circle cx="240.6" cy="81.6" r="1.25"/><circle cx="237.7" cy="83.3" r="1.25"/><circle cx="236.8" cy="80.2" r="1.25"/><circle cx="238.7" cy="82.2" r="1.25"/><circle cx="240.5" cy="83.0" r="1.25"/><circle cx="242.8" cy="83.7" r="1.25"/><circle cx="236.1" cy="85.3" r="1.25"/><circle cx="237.9" cy="84.9" r="1.25"/><circle cx="240.2" cy="84.2" r="1.25"/></g>
<g fill="#e81818"><circle cx="185.9" cy="35.7" r="0.90"/><circle cx="191.6" cy="28.8" r="0.90"/><circle cx="193.4" cy="47.0" r="0.90"/><circle cx="185.9" cy="50.4" r="0.90"/><circle cx="193.4" cy="51.6" r="0.90"/><circle cx="45.2" cy="73.0" r="1.15"/><circle cx="45.1" cy="74.1" r="1.15"/><circle cx="44.7" cy="75.2" r="1.15"/><circle cx="44.9" cy="76.4" r="1.15"/><circle cx="44.8" cy="77.5" r="1.15"/><circle cx="44.9" cy="78.6" r="1.15"/><circle cx="44.8" cy="79.7" r="1.15"/><circle cx="44.3" cy="80.9" r="1.15"/><circle cx="44.7" cy="82.0" r="1.15"/><circle cx="44.6" cy="83.1" r="1.15"/><circle cx="44.2" cy="84.2" r="1.15"/><circle cx="45.7" cy="85.4" r="1.15"/><circle cx="44.5" cy="86.5" r="1.15"/><circle cx="43.9" cy="87.6" r="1.15"/><circle cx="45.7" cy="85.1" r="1.15"/><circle cx="45.2" cy="86.3" r="1.15"/><circle cx="44.5" cy="86.0" r="1.15"/><circle cx="44.3" cy="82.6" r="1.15"/><circle cx="44.4" cy="83.8" r="1.15"/><circle cx="44.1" cy="84.5" r="1.15"/><circle cx="44.3" cy="82.5" r="1.15"/><circle cx="54.1" cy="67.5" r="1.15"/><circle cx="54.5" cy="68.7" r="1.15"/><circle cx="54.3" cy="69.9" r="1.15"/><circle cx="54.0" cy="71.0" r="1.15"/><circle cx="54.2" cy="72.2" r="1.15"/><circle cx="54.8" cy="73.4" r="1.15"/><circle cx="54.4" cy="74.6" r="1.15"/><circle cx="54.4" cy="75.8" r="1.15"/><circle cx="54.1" cy="77.0" r="1.15"/><circle cx="53.7" cy="78.1" r="1.15"/><circle cx="54.6" cy="79.3" r="1.15"/><circle cx="53.4" cy="80.5" r="1.15"/><circle cx="55.0" cy="81.7" r="1.15"/><circle cx="53.2" cy="82.9" r="1.15"/><circle cx="54.9" cy="84.1" r="1.15"/><circle cx="54.0" cy="85.2" r="1.15"/><circle cx="54.8" cy="86.4" r="1.15"/><circle cx="54.6" cy="87.6" r="1.15"/><circle cx="54.4" cy="80.6" r="1.15"/><circle cx="53.7" cy="80.2" r="1.15"/><circle cx="53.8" cy="82.6" r="1.15"/><circle cx="55.5" cy="84.9" r="1.15"/><circle cx="55.1" cy="82.4" r="1.15"/><circle cx="54.8" cy="81.4" r="1.15"/><circle cx="54.4" cy="82.4" r="1.15"/><circle cx="55.1" cy="80.3" r="1.15"/><circle cx="54.2" cy="81.2" r="1.15"/><circle cx="185.7" cy="55.5" r="0.85"/><circle cx="186.0" cy="58.6" r="0.85"/><circle cx="185.8" cy="61.6" r="0.85"/><circle cx="185.9" cy="64.7" r="0.85"/><circle cx="185.9" cy="67.8" r="0.85"/><circle cx="185.7" cy="70.8" r="0.85"/><circle cx="185.6" cy="73.9" r="0.85"/><circle cx="186.0" cy="76.9" r="0.85"/><circle cx="185.7" cy="80.0" r="0.85"/><circle cx="186.0" cy="81.0" r="1.00"/><circle cx="186.3" cy="82.3" r="1.00"/><circle cx="186.0" cy="83.6" r="1.00"/><circle cx="185.1" cy="85.0" r="1.00"/><circle cx="186.6" cy="86.3" r="1.00"/><circle cx="186.1" cy="87.6" r="1.00"/><circle cx="185.1" cy="85.6" r="1.00"/><circle cx="184.9" cy="86.3" r="1.00"/><circle cx="186.3" cy="87.4" r="1.00"/><circle cx="193.4" cy="58.0" r="0.85"/><circle cx="193.1" cy="61.1" r="0.85"/><circle cx="193.4" cy="64.3" r="0.85"/><circle cx="193.0" cy="67.4" r="0.85"/><circle cx="193.3" cy="70.6" r="0.85"/><circle cx="193.1" cy="73.7" r="0.85"/><circle cx="193.0" cy="76.9" r="0.85"/><circle cx="193.0" cy="80.0" r="0.85"/><circle cx="191.8" cy="62.0" r="0.85"/><circle cx="192.0" cy="65.6" r="0.85"/><circle cx="191.8" cy="69.2" r="0.85"/><circle cx="191.9" cy="72.8" r="0.85"/><circle cx="192.0" cy="76.4" r="0.85"/><circle cx="191.8" cy="80.0" r="0.85"/><circle cx="192.7" cy="81.0" r="1.00"/><circle cx="192.8" cy="82.3" r="1.00"/><circle cx="193.2" cy="83.6" r="1.00"/><circle cx="192.6" cy="85.0" r="1.00"/><circle cx="193.4" cy="86.3" r="1.00"/><circle cx="193.8" cy="87.6" r="1.00"/><circle cx="192.4" cy="87.0" r="1.00"/><circle cx="191.6" cy="85.7" r="1.00"/><circle cx="191.7" cy="87.2" r="1.00"/></g>
</g>
<g transform="translate(262.3 0)">
<use href="#tpl"/>
<g fill="#0e0e88"><circle cx="240.0" cy="36.6" r="1.25"/><circle cx="240.5" cy="37.4" r="1.25"/><circle cx="240.0" cy="48.9" r="1.25"/><circle cx="241.0" cy="52.6" r="1.25"/><circle cx="239.3" cy="54.0" r="1.25"/><circle cx="239.3" cy="62.6" r="1.25"/><circle cx="223.6" cy="58.8" r="1.25"/><circle cx="222.8" cy="67.6" r="1.25"/><circle cx="238.0" cy="71.7" r="1.25"/><circle cx="235.1" cy="71.7" r="1.25"/><circle cx="75.0" cy="66.6" r="1.25"/><circle cx="77.3" cy="65.4" r="1.25"/><circle cx="78.4" cy="67.3" r="1.25"/><circle cx="63.4" cy="72.3" r="1.25"/><circle cx="67.9" cy="72.3" r="1.25"/><circle cx="70.3" cy="74.6" r="1.25"/><circle cx="80.7" cy="71.2" r="1.25"/><circle cx="60.0" cy="74.6" r="1.25"/><circle cx="73.8" cy="74.6" r="1.25"/><circle cx="92.3" cy="72.3" r="1.25"/><circle cx="93.4" cy="74.6" r="1.25"/><circle cx="96.9" cy="75.8" r="1.25"/><circle cx="103.8" cy="77.0" r="1.25"/><circle cx="108.4" cy="72.3" r="1.25"/><circle cx="109.6" cy="74.6" r="1.25"/><circle cx="106.1" cy="78.1" r="1.25"/><circle cx="117.7" cy="70.0" r="1.25"/><circle cx="118.8" cy="77.0" r="1.25"/><circle cx="113.0" cy="80.4" r="1.25"/><circle cx="130.4" cy="71.2" r="1.25"/><circle cx="129.2" cy="74.6" r="1.25"/><circle cx="132.7" cy="77.0" r="1.25"/><circle cx="135.0" cy="70.0" r="1.25"/><circle cx="137.3" cy="67.7" r="1.25"/><circle cx="141.9" cy="72.3" r="1.25"/><circle cx="145.4" cy="67.7" r="1.25"/><circle cx="139.0" cy="67.6" r="1.25"/><circle cx="147.2" cy="67.6" r="1.25"/><circle cx="141.7" cy="74.5" r="1.25"/><circle cx="148.6" cy="74.5" r="1.25"/><circle cx="165.0" cy="77.2" r="1.25"/><circle cx="169.2" cy="71.7" r="1.25"/><circle cx="198.0" cy="69.0" r="1.25"/><circle cx="206.3" cy="73.1" r="1.25"/><circle cx="210.4" cy="71.7" r="1.25"/><circle cx="50.2" cy="80.7" r="1.25"/><circle cx="36.4" cy="86.3" r="1.25"/><circle cx="46.8" cy="83.1" r="1.25"/><circle cx="39.9" cy="84.4" r="1.25"/><circle cx="44.7" cy="84.7" r="1.25"/><circle cx="37.5" cy="84.8" r="1.25"/><circle cx="41.3" cy="85.4" r="1.25"/><circle cx="50.9" cy="84.0" r="1.25"/><circle cx="43.7" cy="80.9" r="1.25"/><circle cx="39.3" cy="85.3" r="1.25"/><circle cx="35.4" cy="86.3" r="1.25"/><circle cx="40.1" cy="85.3" r="1.25"/><circle cx="49.3" cy="85.5" r="1.25"/><circle cx="44.0" cy="85.0" r="1.25"/><circle cx="35.4" cy="85.9" r="1.25"/><circle cx="37.2" cy="85.7" r="1.25"/><circle cx="51.0" cy="85.1" r="1.25"/><circle cx="37.9" cy="84.3" r="1.25"/><circle cx="47.7" cy="82.3" r="1.25"/><circle cx="49.5" cy="84.0" r="1.25"/><circle cx="47.6" cy="83.8" r="1.25"/><circle cx="50.7" cy="85.6" r="1.25"/><circle cx="37.6" cy="80.4" r="1.25"/><circle cx="46.4" cy="83.8" r="1.25"/><circle cx="43.5" cy="85.3" r="1.25"/><circle cx="49.8" cy="85.2" r="1.25"/><circle cx="48.3" cy="85.1" r="1.25"/><circle cx="49.1" cy="85.6" r="1.25"/><circle cx="42.4" cy="82.2" r="1.25"/><circle cx="49.7" cy="84.9" r="1.25"/><circle cx="42.8" cy="84.0" r="1.25"/><circle cx="40.2" cy="85.9" r="1.25"/><circle cx="37.7" cy="84.2" r="1.25"/><circle cx="39.3" cy="82.0" r="1.25"/><circle cx="40.0" cy="81.9" r="1.25"/><circle cx="46.3" cy="80.6" r="1.25"/><circle cx="43.3" cy="85.1" r="1.25"/><circle cx="44.4" cy="84.5" r="1.25"/><circle cx="38.3" cy="85.7" r="1.25"/><circle cx="49.9" cy="85.1" r="1.25"/><circle cx="36.2" cy="84.6" r="1.25"/><circle cx="46.6" cy="83.2" r="1.25"/><circle cx="38.1" cy="82.0" r="1.25"/><circle cx="35.9" cy="83.9" r="1.25"/><circle cx="39.4" cy="84.5" r="1.25"/><circle cx="49.0" cy="85.9" r="1.25"/><circle cx="43.4" cy="86.2" r="1.25"/><circle cx="38.9" cy="82.9" r="1.25"/><circle cx="49.1" cy="86.0" r="1.25"/><circle cx="46.5" cy="85.4" r="1.25"/><circle cx="67.7" cy="86.3" r="1.25"/><circle cx="78.5" cy="85.9" r="1.25"/><circle cx="88.4" cy="86.2" r="1.25"/><circle cx="80.5" cy="86.3" r="1.25"/><circle cx="63.9" cy="86.3" r="1.25"/><circle cx="60.5" cy="82.3" r="1.25"/><circle cx="79.2" cy="85.9" r="1.25"/><circle cx="56.5" cy="85.2" r="1.25"/><circle cx="56.3" cy="86.0" r="1.25"/><circle cx="76.5" cy="85.4" r="1.25"/><circle cx="59.0" cy="83.1" r="1.25"/><circle cx="56.1" cy="85.4" r="1.25"/><circle cx="81.8" cy="84.9" r="1.25"/><circle cx="86.6" cy="83.1" r="1.25"/><circle cx="85.2" cy="82.9" r="1.25"/><circle cx="71.5" cy="83.4" r="1.25"/><circle cx="78.1" cy="85.8" r="1.25"/><circle cx="58.6" cy="85.5" r="1.25"/><circle cx="85.6" cy="84.9" r="1.25"/><circle cx="75.5" cy="86.1" r="1.25"/><circle cx="73.0" cy="85.2" r="1.25"/><circle cx="88.6" cy="86.0" r="1.25"/><circle cx="76.2" cy="85.7" r="1.25"/><circle cx="55.6" cy="85.1" r="1.25"/><circle cx="59.9" cy="84.4" r="1.25"/><circle cx="56.2" cy="86.3" r="1.25"/><circle cx="58.4" cy="86.0" r="1.25"/><circle cx="72.8" cy="83.9" r="1.25"/><circle cx="87.7" cy="76.3" r="1.25"/><circle cx="70.6" cy="85.8" r="1.25"/><circle cx="75.7" cy="85.7" r="1.25"/><circle cx="83.0" cy="84.0" r="1.25"/><circle cx="64.0" cy="83.4" r="1.25"/><circle cx="73.4" cy="85.1" r="1.25"/><circle cx="56.2" cy="86.4" r="1.25"/><circle cx="58.9" cy="85.1" r="1.25"/><circle cx="63.4" cy="83.2" r="1.25"/><circle cx="61.4" cy="86.1" r="1.25"/><circle cx="62.6" cy="85.8" r="1.25"/><circle cx="71.3" cy="84.6" r="1.25"/><circle cx="77.5" cy="85.5" r="1.25"/><circle cx="86.7" cy="85.8" r="1.25"/><circle cx="80.5" cy="78.3" r="1.25"/><circle cx="72.9" cy="85.0" r="1.25"/><circle cx="56.8" cy="84.3" r="1.25"/><circle cx="73.4" cy="85.1" r="1.25"/><circle cx="58.3" cy="85.9" r="1.25"/><circle cx="67.8" cy="82.4" r="1.25"/><circle cx="87.3" cy="84.6" r="1.25"/><circle cx="65.1" cy="84.1" r="1.25"/><circle cx="68.0" cy="76.3" r="1.25"/><circle cx="79.0" cy="86.4" r="1.25"/><circle cx="65.7" cy="86.1" r="1.25"/><circle cx="78.5" cy="81.9" r="1.25"/><circle cx="70.8" cy="86.4" r="1.25"/><circle cx="72.0" cy="85.1" r="1.25"/><circle cx="75.6" cy="85.8" r="1.25"/><circle cx="65.0" cy="86.2" r="1.25"/><circle cx="87.7" cy="85.3" r="1.25"/><circle cx="81.4" cy="86.2" r="1.25"/><circle cx="75.0" cy="85.9" r="1.25"/><circle cx="71.2" cy="85.2" r="1.25"/><circle cx="68.8" cy="83.0" r="1.25"/><circle cx="59.3" cy="86.1" r="1.25"/><circle cx="84.8" cy="86.2" r="1.25"/><circle cx="88.6" cy="83.9" r="1.25"/><circle cx="55.9" cy="83.5" r="1.25"/><circle cx="82.2" cy="83.8" r="1.25"/><circle cx="72.4" cy="83.2" r="1.25"/><circle cx="71.0" cy="85.3" r="1.25"/><circle cx="64.4" cy="82.5" r="1.25"/><circle cx="71.7" cy="84.6" r="1.25"/><circle cx="83.2" cy="78.8" r="1.25"/><circle cx="84.3" cy="79.8" r="1.25"/><circle cx="63.1" cy="85.5" r="1.25"/><circle cx="64.1" cy="84.8" r="1.25"/><circle cx="78.8" cy="85.0" r="1.25"/><circle cx="75.5" cy="80.3" r="1.25"/><circle cx="58.4" cy="82.2" r="1.25"/><circle cx="89.9" cy="85.3" r="1.25"/><circle cx="69.6" cy="86.0" r="1.25"/><circle cx="58.0" cy="86.2" r="1.25"/><circle cx="89.6" cy="80.9" r="1.25"/><circle cx="59.5" cy="83.8" r="1.25"/><circle cx="63.1" cy="85.5" r="1.25"/><circle cx="78.8" cy="83.7" r="1.25"/><circle cx="73.3" cy="85.0" r="1.25"/><circle cx="73.9" cy="86.1" r="1.25"/><circle cx="81.5" cy="79.1" r="1.25"/><circle cx="73.1" cy="86.2" r="1.25"/><circle cx="64.0" cy="83.3" r="1.25"/><circle cx="71.1" cy="80.9" r="1.25"/><circle cx="69.1" cy="83.4" r="1.25"/><circle cx="75.1" cy="82.7" r="1.25"/><circle cx="70.4" cy="86.0" r="1.25"/><circle cx="75.8" cy="86.3" r="1.25"/><circle cx="61.3" cy="81.2" r="1.25"/><circle cx="71.9" cy="84.7" r="1.25"/><circle cx="79.9" cy="85.1" r="1.25"/><circle cx="79.7" cy="79.6" r="1.25"/><circle cx="88.7" cy="84.8" r="1.25"/><circle cx="81.1" cy="85.4" r="1.25"/><circle cx="81.7" cy="83.8" r="1.25"/><circle cx="62.9" cy="81.7" r="1.25"/><circle cx="69.1" cy="84.0" r="1.25"/><circle cx="89.2" cy="83.7" r="1.25"/><circle cx="55.4" cy="83.9" r="1.25"/><circle cx="79.9" cy="84.9" r="1.25"/><circle cx="77.8" cy="81.1" r="1.25"/><circle cx="55.6" cy="82.2" r="1.25"/><circle cx="80.5" cy="79.4" r="1.25"/><circle cx="86.7" cy="84.1" r="1.25"/><circle cx="58.5" cy="81.1" r="1.25"/><circle cx="81.8" cy="82.3" r="1.25"/><circle cx="81.0" cy="85.9" r="1.25"/><circle cx="61.7" cy="84.2" r="1.25"/><circle cx="59.8" cy="82.4" r="1.25"/><circle cx="70.2" cy="84.1" r="1.25"/><circle cx="74.8" cy="85.7" r="1.25"/><circle cx="62.2" cy="84.9" r="1.25"/><circle cx="57.5" cy="78.1" r="1.25"/><circle cx="72.0" cy="86.4" r="1.25"/><circle cx="78.0" cy="82.0" r="1.25"/><circle cx="72.0" cy="83.0" r="1.25"/><circle cx="66.7" cy="83.6" r="1.25"/><circle cx="72.6" cy="85.6" r="1.25"/><circle cx="57.8" cy="86.3" r="1.25"/><circle cx="61.1" cy="83.0" r="1.25"/><circle cx="82.5" cy="83.0" r="1.25"/><circle cx="78.6" cy="85.1" r="1.25"/><circle cx="122.8" cy="83.2" r="1.25"/><circle cx="96.2" cy="86.1" r="1.25"/><circle cx="107.7" cy="85.4" r="1.25"/><circle cx="90.4" cy="85.7" r="1.25"/><circle cx="126.7" cy="84.7" r="1.25"/><circle cx="110.4" cy="85.5" r="1.25"/><circle cx="106.8" cy="85.4" r="1.25"/><circle cx="101.7" cy="82.2" r="1.25"/><circle cx="108.4" cy="84.3" r="1.25"/><circle cx="124.8" cy="84.8" r="1.25"/><circle cx="121.3" cy="86.2" r="1.25"/><circle cx="114.6" cy="85.7" r="1.25"/><circle cx="114.8" cy="83.2" r="1.25"/><circle cx="121.9" cy="85.4" r="1.25"/><circle cx="114.1" cy="86.2" r="1.25"/><circle cx="110.2" cy="85.4" r="1.25"/><circle cx="120.3" cy="82.5" r="1.25"/><circle cx="101.7" cy="84.4" r="1.25"/><circle cx="107.4" cy="85.9" r="1.25"/><circle cx="100.5" cy="85.9" r="1.25"/><circle cx="94.3" cy="79.9" r="1.25"/><circle cx="104.4" cy="82.9" r="1.25"/><circle cx="102.1" cy="85.5" r="1.25"/><circle cx="107.4" cy="86.2" r="1.25"/><circle cx="106.8" cy="86.0" r="1.25"/><circle cx="124.0" cy="85.7" r="1.25"/><circle cx="106.8" cy="81.2" r="1.25"/><circle cx="125.3" cy="84.3" r="1.25"/><circle cx="93.8" cy="85.6" r="1.25"/><circle cx="97.2" cy="85.8" r="1.25"/><circle cx="104.2" cy="84.1" r="1.25"/><circle cx="120.2" cy="85.5" r="1.25"/><circle cx="120.7" cy="85.9" r="1.25"/><circle cx="105.2" cy="84.4" r="1.25"/><circle cx="103.0" cy="82.9" r="1.25"/><circle cx="125.2" cy="82.1" r="1.25"/><circle cx="116.2" cy="85.0" r="1.25"/><circle cx="118.2" cy="80.3" r="1.25"/><circle cx="123.0" cy="83.6" r="1.25"/><circle cx="118.6" cy="80.8" r="1.25"/><circle cx="101.1" cy="78.5" r="1.25"/><circle cx="115.5" cy="84.4" r="1.25"/><circle cx="105.0" cy="85.5" r="1.25"/><circle cx="126.4" cy="86.0" r="1.25"/><circle cx="108.1" cy="85.5" r="1.25"/><circle cx="132.1" cy="77.2" r="1.25"/><circle cx="128.6" cy="85.8" r="1.25"/><circle cx="135.9" cy="84.6" r="1.25"/><circle cx="147.4" cy="76.2" r="1.25"/><circle cx="137.6" cy="80.5" r="1.25"/><circle cx="133.2" cy="83.2" r="1.25"/><circle cx="136.6" cy="79.1" r="1.25"/><circle cx="142.0" cy="85.0" r="1.25"/><circle cx="135.0" cy="85.7" r="1.25"/><circle cx="130.1" cy="75.8" r="1.25"/><circle cx="132.5" cy="85.8" r="1.25"/><circle cx="137.2" cy="85.2" r="1.25"/><circle cx="135.5" cy="85.2" r="1.25"/><circle cx="133.3" cy="85.2" r="1.25"/><circle cx="135.4" cy="82.5" r="1.25"/><circle cx="144.9" cy="84.5" r="1.25"/><circle cx="131.2" cy="86.1" r="1.25"/><circle cx="137.5" cy="78.6" r="1.25"/><circle cx="130.9" cy="80.2" r="1.25"/><circle cx="146.6" cy="83.4" r="1.25"/><circle cx="144.9" cy="84.7" r="1.25"/><circle cx="136.7" cy="82.5" r="1.25"/><circle cx="138.4" cy="84.4" r="1.25"/><circle cx="135.0" cy="82.5" r="1.25"/><circle cx="141.1" cy="79.0" r="1.25"/><circle cx="139.8" cy="82.8" r="1.25"/><circle cx="138.0" cy="78.9" r="1.25"/><circle cx="139.5" cy="84.2" r="1.25"/><circle cx="130.4" cy="86.2" r="1.25"/><circle cx="148.6" cy="85.8" r="1.25"/><circle cx="148.1" cy="81.7" r="1.25"/><circle cx="134.7" cy="86.1" r="1.25"/><circle cx="128.2" cy="79.9" r="1.25"/><circle cx="135.7" cy="85.9" r="1.25"/><circle cx="131.2" cy="85.6" r="1.25"/><circle cx="130.0" cy="81.9" r="1.25"/><circle cx="129.1" cy="82.1" r="1.25"/><circle cx="133.3" cy="77.0" r="1.25"/><circle cx="140.3" cy="83.7" r="1.25"/><circle cx="139.0" cy="85.8" r="1.25"/><circle cx="132.4" cy="86.1" r="1.25"/><circle cx="146.1" cy="76.2" r="1.25"/><circle cx="143.0" cy="83.4" r="1.25"/><circle cx="131.1" cy="77.9" r="1.25"/><circle cx="130.9" cy="83.6" r="1.25"/><circle cx="130.4" cy="85.9" r="1.25"/><circle cx="129.2" cy="85.4" r="1.25"/><circle cx="136.3" cy="85.4" r="1.25"/><circle cx="146.9" cy="82.4" r="1.25"/><circle cx="143.8" cy="76.8" r="1.25"/><circle cx="148.2" cy="83.5" r="1.25"/><circle cx="130.3" cy="85.7" r="1.25"/><circle cx="141.8" cy="79.4" r="1.25"/><circle cx="136.3" cy="85.4" r="1.25"/><circle cx="137.5" cy="85.0" r="1.25"/><circle cx="136.8" cy="84.1" r="1.25"/><circle cx="145.9" cy="79.9" r="1.25"/><circle cx="138.4" cy="83.0" r="1.25"/><circle cx="144.8" cy="85.0" r="1.25"/><circle cx="143.5" cy="85.3" r="1.25"/><circle cx="142.5" cy="81.5" r="1.25"/><circle cx="140.1" cy="86.3" r="1.25"/><circle cx="132.3" cy="85.5" r="1.25"/><circle cx="142.2" cy="82.9" r="1.25"/><circle cx="144.3" cy="82.4" r="1.25"/><circle cx="138.5" cy="81.4" r="1.25"/><circle cx="145.0" cy="86.2" r="1.25"/><circle cx="146.4" cy="79.3" r="1.25"/><circle cx="128.8" cy="82.7" r="1.25"/><circle cx="130.4" cy="85.5" r="1.25"/><circle cx="140.0" cy="82.3" r="1.25"/><circle cx="149.0" cy="85.6" r="1.25"/><circle cx="138.2" cy="77.0" r="1.25"/><circle cx="132.6" cy="85.0" r="1.25"/><circle cx="143.4" cy="79.3" r="1.25"/><circle cx="170.8" cy="85.3" r="1.25"/><circle cx="159.5" cy="83.7" r="1.25"/><circle cx="166.6" cy="84.6" r="1.25"/><circle cx="165.2" cy="84.4" r="1.25"/><circle cx="166.2" cy="86.0" r="1.25"/><circle cx="170.9" cy="85.4" r="1.25"/><circle cx="157.7" cy="85.6" r="1.25"/><circle cx="159.0" cy="83.9" r="1.25"/><circle cx="171.2" cy="84.0" r="1.25"/><circle cx="167.8" cy="85.7" r="1.25"/><circle cx="168.1" cy="82.5" r="1.25"/><circle cx="160.5" cy="84.5" r="1.25"/><circle cx="160.9" cy="85.0" r="1.25"/><circle cx="154.4" cy="85.4" r="1.25"/><circle cx="154.4" cy="84.3" r="1.25"/><circle cx="163.2" cy="84.3" r="1.25"/><circle cx="153.9" cy="85.2" r="1.25"/><circle cx="169.8" cy="83.4" r="1.25"/><circle cx="164.2" cy="85.6" r="1.25"/><circle cx="170.4" cy="82.9" r="1.25"/><circle cx="157.1" cy="82.7" r="1.25"/><circle cx="169.2" cy="85.6" r="1.25"/><circle cx="150.3" cy="85.2" r="1.25"/><circle cx="154.6" cy="79.7" r="1.25"/><circle cx="157.3" cy="85.2" r="1.25"/><circle cx="166.7" cy="85.4" r="1.25"/><circle cx="160.1" cy="85.0" r="1.25"/><circle cx="169.2" cy="84.6" r="1.25"/><circle cx="163.3" cy="86.3" r="1.25"/><circle cx="153.5" cy="85.9" r="1.25"/><circle cx="158.6" cy="83.3" r="1.25"/><circle cx="163.5" cy="86.2" r="1.25"/><circle cx="164.8" cy="78.4" r="1.25"/><circle cx="168.4" cy="84.2" r="1.25"/><circle cx="153.5" cy="78.3" r="1.25"/><circle cx="172.2" cy="85.2" r="1.25"/><circle cx="154.7" cy="77.9" r="1.25"/><circle cx="170.1" cy="82.4" r="1.25"/><circle cx="166.2" cy="83.5" r="1.25"/><circle cx="155.4" cy="84.0" r="1.25"/><circle cx="151.4" cy="85.6" r="1.25"/><circle cx="153.2" cy="82.8" r="1.25"/><circle cx="159.0" cy="83.2" r="1.25"/><circle cx="172.3" cy="84.5" r="1.25"/><circle cx="160.9" cy="84.8" r="1.25"/><circle cx="154.9" cy="84.8" r="1.25"/><circle cx="162.2" cy="85.6" r="1.25"/><circle cx="152.1" cy="80.8" r="1.25"/><circle cx="165.5" cy="76.9" r="1.25"/><circle cx="166.3" cy="86.2" r="1.25"/><circle cx="161.8" cy="84.7" r="1.25"/><circle cx="161.7" cy="86.1" r="1.25"/><circle cx="168.0" cy="84.0" r="1.25"/><circle cx="166.2" cy="83.6" r="1.25"/><circle cx="155.1" cy="82.1" r="1.25"/><circle cx="161.0" cy="86.3" r="1.25"/><circle cx="153.3" cy="85.9" r="1.25"/><circle cx="162.4" cy="85.1" r="1.25"/><circle cx="164.9" cy="83.3" r="1.25"/><circle cx="152.3" cy="77.1" r="1.25"/><circle cx="152.0" cy="83.7" r="1.25"/><circle cx="160.1" cy="82.8" r="1.25"/><circle cx="157.1" cy="85.9" r="1.25"/><circle cx="160.9" cy="82.9" r="1.25"/><circle cx="158.2" cy="77.0" r="1.25"/><circle cx="239.3" cy="85.0" r="1.25"/><circle cx="200.1" cy="83.2" r="1.25"/><circle cx="212.4" cy="81.1" r="1.25"/><circle cx="225.5" cy="76.2" r="1.25"/><circle cx="238.0" cy="80.7" r="1.25"/><circle cx="241.4" cy="83.9" r="1.25"/><circle cx="211.3" cy="86.3" r="1.25"/><circle cx="195.4" cy="80.1" r="1.25"/><circle cx="243.0" cy="82.5" r="1.25"/><circle cx="236.4" cy="82.0" r="1.25"/><circle cx="220.9" cy="86.1" r="1.25"/><circle cx="215.9" cy="83.1" r="1.25"/><circle cx="232.9" cy="84.5" r="1.25"/><circle cx="197.2" cy="85.8" r="1.25"/><circle cx="241.4" cy="83.3" r="1.25"/><circle cx="227.3" cy="80.3" r="1.25"/><circle cx="238.4" cy="85.2" r="1.25"/><circle cx="206.8" cy="86.3" r="1.25"/><circle cx="237.9" cy="81.0" r="1.25"/><circle cx="238.6" cy="84.6" r="1.25"/><circle cx="223.7" cy="86.0" r="1.25"/><circle cx="206.2" cy="86.2" r="1.25"/><circle cx="195.3" cy="85.7" r="1.25"/><circle cx="219.0" cy="84.6" r="1.25"/><circle cx="226.3" cy="85.3" r="1.25"/><circle cx="219.8" cy="86.2" r="1.25"/><circle cx="214.4" cy="83.8" r="1.25"/><circle cx="201.1" cy="77.8" r="1.25"/><circle cx="217.1" cy="84.5" r="1.25"/><circle cx="241.7" cy="84.8" r="1.25"/><circle cx="219.8" cy="83.5" r="1.25"/><circle cx="216.0" cy="84.4" r="1.25"/><circle cx="233.4" cy="75.9" r="1.25"/><circle cx="202.8" cy="82.8" r="1.25"/><circle cx="201.1" cy="83.3" r="1.25"/><circle cx="196.1" cy="84.9" r="1.25"/><circle cx="241.9" cy="82.2" r="1.25"/><circle cx="222.3" cy="82.9" r="1.25"/><circle cx="216.2" cy="85.4" r="1.25"/><circle cx="215.3" cy="84.2" r="1.25"/><circle cx="205.5" cy="85.3" r="1.25"/><circle cx="240.7" cy="81.6" r="1.25"/><circle cx="224.8" cy="80.4" r="1.25"/><circle cx="209.5" cy="86.3" r="1.25"/><circle cx="241.7" cy="80.0" r="1.25"/><circle cx="222.3" cy="83.6" r="1.25"/><circle cx="206.9" cy="82.4" r="1.25"/><circle cx="212.5" cy="82.1" r="1.25"/><circle cx="217.2" cy="79.9" r="1.25"/><circle cx="221.7" cy="82.6" r="1.25"/><circle cx="217.1" cy="83.7" r="1.25"/><circle cx="231.2" cy="75.8" r="1.25"/><circle cx="219.3" cy="84.5" r="1.25"/><circle cx="230.9" cy="78.5" r="1.25"/><circle cx="241.0" cy="82.7" r="1.25"/><circle cx="223.7" cy="86.0" r="1.25"/><circle cx="216.8" cy="83.0" r="1.25"/><circle cx="241.4" cy="74.9" r="1.25"/><circle cx="224.6" cy="84.7" r="1.25"/><circle cx="228.4" cy="81.4" r="1.25"/><circle cx="233.3" cy="84.8" r="1.25"/><circle cx="202.1" cy="84.9" r="1.25"/><circle cx="226.2" cy="82.6" r="1.25"/><circle cx="218.9" cy="84.6" r="1.25"/><circle cx="214.5" cy="80.7" r="1.25"/><circle cx="222.4" cy="78.0" r="1.25"/><circle cx="226.0" cy="84.6" r="1.25"/><circle cx="238.0" cy="81.1" r="1.25"/><circle cx="227.0" cy="82.5" r="1.25"/><circle cx="196.9" cy="84.6" r="1.25"/><circle cx="200.5" cy="84.3" r="1.25"/><circle cx="212.4" cy="76.5" r="1.25"/><circle cx="230.2" cy="83.2" r="1.25"/><circle cx="235.0" cy="85.7" r="1.25"/><circle cx="198.9" cy="85.0" r="1.25"/><circle cx="214.3" cy="83.2" r="1.25"/><circle cx="216.3" cy="77.7" r="1.25"/><circle cx="195.9" cy="86.1" r="1.25"/><circle cx="218.7" cy="86.3" r="1.25"/><circle cx="197.5" cy="82.1" r="1.25"/><circle cx="218.0" cy="85.0" r="1.25"/><circle cx="241.6" cy="78.5" r="1.25"/><circle cx="225.7" cy="79.2" r="1.25"/><circle cx="205.7" cy="83.4" r="1.25"/><circle cx="203.0" cy="83.1" r="1.25"/><circle cx="234.8" cy="85.1" r="1.25"/><circle cx="229.9" cy="83.5" r="1.25"/><circle cx="208.4" cy="84.2" r="1.25"/><circle cx="222.5" cy="84.0" r="1.25"/><circle cx="235.6" cy="85.4" r="1.25"/><circle cx="206.6" cy="85.7" r="1.25"/><circle cx="229.6" cy="80.6" r="1.25"/><circle cx="223.1" cy="85.5" r="1.25"/><circle cx="236.4" cy="85.5" r="1.25"/><circle cx="219.5" cy="83.3" r="1.25"/><circle cx="214.5" cy="85.8" r="1.25"/><circle cx="212.4" cy="84.2" r="1.25"/><circle cx="204.5" cy="85.7" r="1.25"/><circle cx="239.4" cy="82.2" r="1.25"/><circle cx="224.5" cy="79.9" r="1.25"/><circle cx="201.4" cy="81.0" r="1.25"/><circle cx="228.8" cy="85.6" r="1.25"/><circle cx="199.0" cy="86.4" r="1.25"/><circle cx="204.5" cy="81.2" r="1.25"/><circle cx="214.0" cy="85.7" r="1.25"/><circle cx="195.5" cy="80.1" r="1.25"/><circle cx="209.6" cy="79.1" r="1.25"/><circle cx="217.7" cy="83.5" r="1.25"/><circle cx="241.0" cy="85.9" r="1.25"/><circle cx="233.6" cy="85.7" r="1.25"/><circle cx="216.8" cy="79.1" r="1.25"/><circle cx="198.0" cy="75.2" r="1.25"/><circle cx="218.2" cy="85.8" r="1.25"/><circle cx="233.8" cy="86.1" r="1.25"/><circle cx="233.3" cy="83.8" r="1.25"/><circle cx="196.3" cy="85.2" r="1.25"/><circle cx="205.0" cy="78.7" r="1.25"/><circle cx="201.0" cy="84.5" r="1.25"/><circle cx="217.3" cy="83.3" r="1.25"/><circle cx="196.9" cy="85.6" r="1.25"/><circle cx="232.6" cy="85.0" r="1.25"/><circle cx="206.0" cy="85.8" r="1.25"/><circle cx="225.5" cy="83.1" r="1.25"/><circle cx="226.0" cy="80.7" r="1.25"/><circle cx="202.5" cy="79.8" r="1.25"/><circle cx="196.4" cy="77.5" r="1.25"/><circle cx="200.0" cy="86.0" r="1.25"/><circle cx="219.2" cy="81.2" r="1.25"/><circle cx="241.8" cy="77.6" r="1.25"/><circle cx="224.5" cy="75.8" r="1.25"/><circle cx="240.9" cy="84.9" r="1.25"/><circle cx="204.4" cy="81.8" r="1.25"/><circle cx="196.0" cy="83.6" r="1.25"/><circle cx="225.7" cy="86.3" r="1.25"/><circle cx="236.3" cy="82.0" r="1.25"/><circle cx="201.6" cy="81.5" r="1.25"/><circle cx="242.1" cy="81.7" r="1.25"/><circle cx="218.1" cy="82.5" r="1.25"/><circle cx="198.1" cy="85.2" r="1.25"/><circle cx="241.2" cy="83.0" r="1.25"/><circle cx="234.4" cy="86.0" r="1.25"/><circle cx="211.9" cy="78.5" r="1.25"/><circle cx="202.5" cy="79.9" r="1.25"/><circle cx="222.2" cy="85.2" r="1.25"/><circle cx="220.7" cy="79.1" r="1.25"/><circle cx="239.6" cy="86.1" r="1.25"/><circle cx="232.4" cy="83.5" r="1.25"/><circle cx="211.1" cy="85.5" r="1.25"/><circle cx="204.0" cy="86.1" r="1.25"/><circle cx="214.7" cy="84.4" r="1.25"/><circle cx="235.0" cy="82.7" r="1.25"/><circle cx="239.4" cy="85.0" r="1.25"/><circle cx="211.6" cy="82.7" r="1.25"/><circle cx="240.9" cy="85.7" r="1.25"/><circle cx="197.1" cy="82.7" r="1.25"/><circle cx="213.1" cy="82.4" r="1.25"/><circle cx="231.7" cy="84.5" r="1.25"/><circle cx="207.9" cy="85.5" r="1.25"/><circle cx="238.4" cy="83.7" r="1.25"/><circle cx="235.0" cy="86.1" r="1.25"/><circle cx="203.5" cy="82.0" r="1.25"/><circle cx="224.8" cy="82.6" r="1.25"/><circle cx="220.8" cy="82.1" r="1.25"/><circle cx="219.1" cy="85.1" r="1.25"/><circle cx="216.9" cy="85.5" r="1.25"/><circle cx="200.1" cy="84.6" r="1.25"/><circle cx="211.5" cy="85.5" r="1.25"/><circle cx="222.0" cy="84.7" r="1.25"/><circle cx="207.4" cy="81.6" r="1.25"/><circle cx="211.2" cy="83.6" r="1.25"/><circle cx="197.4" cy="85.2" r="1.25"/><circle cx="209.1" cy="74.3" r="1.25"/><circle cx="197.6" cy="85.6" r="1.25"/><circle cx="200.1" cy="85.9" r="1.25"/><circle cx="195.1" cy="83.9" r="1.25"/><circle cx="206.7" cy="83.9" r="1.25"/><circle cx="198.2" cy="78.3" r="1.25"/><circle cx="208.5" cy="86.4" r="1.25"/><circle cx="200.3" cy="84.3" r="1.25"/><circle cx="199.6" cy="85.6" r="1.25"/><circle cx="199.4" cy="85.0" r="1.25"/><circle cx="203.8" cy="85.2" r="1.25"/><circle cx="200.3" cy="78.9" r="1.25"/><circle cx="203.2" cy="84.0" r="1.25"/><circle cx="208.0" cy="78.1" r="1.25"/><circle cx="208.7" cy="85.5" r="1.25"/><circle cx="204.8" cy="84.8" r="1.25"/><circle cx="204.8" cy="83.0" r="1.25"/><circle cx="196.2" cy="84.7" r="1.25"/><circle cx="210.8" cy="86.4" r="1.25"/><circle cx="202.8" cy="76.6" r="1.25"/><circle cx="209.2" cy="86.0" r="1.25"/><circle cx="203.0" cy="83.3" r="1.25"/><circle cx="197.7" cy="81.8" r="1.25"/><circle cx="208.9" cy="85.3" r="1.25"/><circle cx="211.7" cy="80.4" r="1.25"/><circle cx="211.5" cy="83.8" r="1.25"/><circle cx="203.6" cy="76.5" r="1.25"/><circle cx="197.8" cy="76.4" r="1.25"/><circle cx="208.8" cy="86.1" r="1.25"/><circle cx="203.8" cy="85.7" r="1.25"/><circle cx="206.5" cy="80.4" r="1.25"/><circle cx="208.4" cy="85.3" r="1.25"/><circle cx="204.6" cy="86.2" r="1.25"/><circle cx="204.3" cy="76.2" r="1.25"/><circle cx="212.0" cy="84.8" r="1.25"/><circle cx="208.5" cy="80.6" r="1.25"/><circle cx="210.9" cy="76.2" r="1.25"/><circle cx="209.0" cy="82.6" r="1.25"/><circle cx="199.3" cy="83.3" r="1.25"/><circle cx="199.5" cy="84.9" r="1.25"/><circle cx="205.5" cy="86.3" r="1.25"/><circle cx="210.5" cy="84.1" r="1.25"/><circle cx="208.3" cy="86.2" r="1.25"/><circle cx="200.5" cy="85.4" r="1.25"/><circle cx="211.3" cy="84.8" r="1.25"/><circle cx="202.9" cy="81.7" r="1.25"/><circle cx="195.8" cy="85.5" r="1.25"/><circle cx="211.6" cy="84.3" r="1.25"/><circle cx="206.5" cy="83.8" r="1.25"/></g>
<g fill="#e81818"><circle cx="185.8" cy="55.4" r="0.90"/><circle cx="191.3" cy="53.3" r="0.90"/><circle cx="194.1" cy="59.5" r="0.90"/><circle cx="194.1" cy="51.3" r="0.90"/><circle cx="45.2" cy="76.5" r="1.15"/><circle cx="44.5" cy="77.7" r="1.15"/><circle cx="44.7" cy="79.0" r="1.15"/><circle cx="44.8" cy="80.2" r="1.15"/><circle cx="44.4" cy="81.4" r="1.15"/><circle cx="44.7" cy="82.7" r="1.15"/><circle cx="45.3" cy="83.9" r="1.15"/><circle cx="44.0" cy="85.1" r="1.15"/><circle cx="45.4" cy="86.4" r="1.15"/><circle cx="44.3" cy="87.6" r="1.15"/><circle cx="44.1" cy="86.1" r="1.15"/><circle cx="44.7" cy="86.7" r="1.15"/><circle cx="46.0" cy="86.9" r="1.15"/><circle cx="43.8" cy="85.7" r="1.15"/><circle cx="46.0" cy="84.8" r="1.15"/><circle cx="54.3" cy="74.6" r="1.15"/><circle cx="54.4" cy="75.8" r="1.15"/><circle cx="54.2" cy="77.0" r="1.15"/><circle cx="54.8" cy="78.1" r="1.15"/><circle cx="54.8" cy="79.3" r="1.15"/><circle cx="54.4" cy="80.5" r="1.15"/><circle cx="54.4" cy="81.7" r="1.15"/><circle cx="53.3" cy="82.9" r="1.15"/><circle cx="53.0" cy="84.1" r="1.15"/><circle cx="53.4" cy="85.2" r="1.15"/><circle cx="54.8" cy="86.4" r="1.15"/><circle cx="55.2" cy="87.6" r="1.15"/><circle cx="55.1" cy="86.4" r="1.15"/><circle cx="53.1" cy="82.6" r="1.15"/><circle cx="53.0" cy="83.7" r="1.15"/><circle cx="55.2" cy="85.4" r="1.15"/><circle cx="53.3" cy="87.1" r="1.15"/><circle cx="54.6" cy="85.9" r="1.15"/><circle cx="185.7" cy="71.3" r="0.85"/><circle cx="185.6" cy="73.9" r="0.85"/><circle cx="185.5" cy="76.5" r="0.85"/><circle cx="185.9" cy="78.0" r="1.10"/><circle cx="186.0" cy="79.2" r="1.10"/><circle cx="185.9" cy="80.4" r="1.10"/><circle cx="185.7" cy="81.6" r="1.10"/><circle cx="184.8" cy="82.8" r="1.10"/><circle cx="185.1" cy="84.0" r="1.10"/><circle cx="185.0" cy="85.2" r="1.10"/><circle cx="184.9" cy="86.4" r="1.10"/><circle cx="184.8" cy="87.6" r="1.10"/><circle cx="186.0" cy="86.3" r="1.10"/><circle cx="186.6" cy="84.4" r="1.10"/><circle cx="186.7" cy="83.8" r="1.10"/><circle cx="185.9" cy="86.0" r="1.10"/><circle cx="193.0" cy="72.0" r="0.85"/><circle cx="193.2" cy="74.2" r="0.85"/><circle cx="193.3" cy="76.5" r="0.85"/><circle cx="192.9" cy="76.0" r="1.10"/><circle cx="192.8" cy="77.3" r="1.10"/><circle cx="193.4" cy="78.6" r="1.10"/><circle cx="192.8" cy="79.9" r="1.10"/><circle cx="192.5" cy="81.2" r="1.10"/><circle cx="193.1" cy="82.4" r="1.10"/><circle cx="192.4" cy="83.7" r="1.10"/><circle cx="192.4" cy="85.0" r="1.10"/><circle cx="192.5" cy="86.3" r="1.10"/><circle cx="191.9" cy="87.6" r="1.10"/><circle cx="193.3" cy="86.8" r="1.10"/><circle cx="192.6" cy="86.0" r="1.10"/><circle cx="194.2" cy="86.6" r="1.10"/><circle cx="192.0" cy="87.6" r="1.10"/><circle cx="192.1" cy="84.4" r="1.10"/></g>
</g>
<g transform="translate(0 134.2)">
<use href="#tpl"/>
<g fill="#0e0e88"><circle cx="76.5" cy="69.1" r="1.25"/><circle cx="77.5" cy="70.3" r="1.25"/><circle cx="68.4" cy="72.6" r="1.25"/><circle cx="62.6" cy="74.9" r="1.25"/><circle cx="70.7" cy="74.9" r="1.25"/><circle cx="81.1" cy="73.7" r="1.25"/><circle cx="74.0" cy="76.0" r="1.25"/><circle cx="82.3" cy="78.3" r="1.25"/><circle cx="92.7" cy="71.4" r="1.25"/><circle cx="91.5" cy="74.9" r="1.25"/><circle cx="97.3" cy="74.9" r="1.25"/><circle cx="101.9" cy="76.0" r="1.25"/><circle cx="108.8" cy="74.9" r="1.25"/><circle cx="110.0" cy="78.3" r="1.25"/><circle cx="118.0" cy="76.0" r="1.25"/><circle cx="117.0" cy="81.0" r="1.25"/><circle cx="104.0" cy="80.6" r="1.25"/><circle cx="96.0" cy="83.0" r="1.25"/><circle cx="129.6" cy="74.9" r="1.25"/><circle cx="134.2" cy="74.9" r="1.25"/><circle cx="141.2" cy="72.6" r="1.25"/><circle cx="143.5" cy="76.0" r="1.25"/><circle cx="146.9" cy="67.6" r="1.25"/><circle cx="142.3" cy="75.6" r="1.25"/><circle cx="149.0" cy="75.6" r="1.25"/><circle cx="170.0" cy="74.5" r="1.25"/><circle cx="198.9" cy="74.2" r="1.25"/><circle cx="216.2" cy="73.3" r="1.25"/><circle cx="224.3" cy="71.0" r="1.25"/><circle cx="223.3" cy="70.5" r="1.25"/><circle cx="223.5" cy="75.0" r="1.25"/><circle cx="238.2" cy="75.6" r="1.25"/><circle cx="206.5" cy="75.6" r="1.25"/><circle cx="211.0" cy="74.6" r="1.25"/><circle cx="215.8" cy="73.0" r="1.25"/><circle cx="43.7" cy="86.0" r="1.25"/><circle cx="44.7" cy="85.6" r="1.25"/><circle cx="36.0" cy="84.8" r="1.25"/><circle cx="48.4" cy="86.4" r="1.25"/><circle cx="38.7" cy="85.9" r="1.25"/><circle cx="48.4" cy="85.4" r="1.25"/><circle cx="45.2" cy="85.3" r="1.25"/><circle cx="45.2" cy="86.1" r="1.25"/><circle cx="43.4" cy="83.1" r="1.25"/><circle cx="45.7" cy="84.2" r="1.25"/><circle cx="47.1" cy="86.3" r="1.25"/><circle cx="39.8" cy="84.9" r="1.25"/><circle cx="48.8" cy="86.3" r="1.25"/><circle cx="46.5" cy="85.4" r="1.25"/><circle cx="46.4" cy="83.0" r="1.25"/><circle cx="41.3" cy="82.3" r="1.25"/><circle cx="42.1" cy="83.8" r="1.25"/><circle cx="49.1" cy="81.9" r="1.25"/><circle cx="37.2" cy="86.2" r="1.25"/><circle cx="50.4" cy="86.0" r="1.25"/><circle cx="45.0" cy="85.5" r="1.25"/><circle cx="43.1" cy="85.8" r="1.25"/><circle cx="40.6" cy="85.6" r="1.25"/><circle cx="44.3" cy="85.0" r="1.25"/><circle cx="45.9" cy="82.6" r="1.25"/><circle cx="48.7" cy="82.1" r="1.25"/><circle cx="37.6" cy="84.6" r="1.25"/><circle cx="50.4" cy="83.2" r="1.25"/><circle cx="44.1" cy="82.6" r="1.25"/><circle cx="38.4" cy="84.4" r="1.25"/><circle cx="44.2" cy="83.5" r="1.25"/><circle cx="36.0" cy="85.9" r="1.25"/><circle cx="50.8" cy="83.3" r="1.25"/><circle cx="47.8" cy="86.2" r="1.25"/><circle cx="37.4" cy="85.5" r="1.25"/><circle cx="47.3" cy="85.8" r="1.25"/><circle cx="35.7" cy="83.0" r="1.25"/><circle cx="35.7" cy="84.8" r="1.25"/><circle cx="40.3" cy="84.3" r="1.25"/><circle cx="50.7" cy="82.9" r="1.25"/><circle cx="51.0" cy="85.2" r="1.25"/><circle cx="36.2" cy="85.8" r="1.25"/><circle cx="35.5" cy="84.9" r="1.25"/><circle cx="41.5" cy="86.0" r="1.25"/><circle cx="37.5" cy="84.9" r="1.25"/><circle cx="48.9" cy="86.3" r="1.25"/><circle cx="50.3" cy="85.8" r="1.25"/><circle cx="41.0" cy="82.7" r="1.25"/><circle cx="43.3" cy="85.4" r="1.25"/><circle cx="44.5" cy="84.7" r="1.25"/><circle cx="44.9" cy="85.1" r="1.25"/><circle cx="43.1" cy="81.8" r="1.25"/><circle cx="46.5" cy="85.5" r="1.25"/><circle cx="39.8" cy="86.0" r="1.25"/><circle cx="43.8" cy="85.2" r="1.25"/><circle cx="41.6" cy="86.4" r="1.25"/><circle cx="35.3" cy="85.0" r="1.25"/><circle cx="45.1" cy="84.8" r="1.25"/><circle cx="45.0" cy="86.3" r="1.25"/><circle cx="45.9" cy="85.4" r="1.25"/><circle cx="79.0" cy="85.0" r="1.25"/><circle cx="55.8" cy="82.0" r="1.25"/><circle cx="78.0" cy="86.2" r="1.25"/><circle cx="70.5" cy="85.5" r="1.25"/><circle cx="65.9" cy="83.5" r="1.25"/><circle cx="65.6" cy="84.9" r="1.25"/><circle cx="75.3" cy="84.9" r="1.25"/><circle cx="67.8" cy="85.2" r="1.25"/><circle cx="55.9" cy="81.6" r="1.25"/><circle cx="80.0" cy="83.6" r="1.25"/><circle cx="62.6" cy="85.2" r="1.25"/><circle cx="63.1" cy="81.1" r="1.25"/><circle cx="69.8" cy="85.7" r="1.25"/><circle cx="58.5" cy="82.5" r="1.25"/><circle cx="66.3" cy="85.1" r="1.25"/><circle cx="69.9" cy="80.5" r="1.25"/><circle cx="60.8" cy="80.1" r="1.25"/><circle cx="77.1" cy="85.1" r="1.25"/><circle cx="70.3" cy="79.3" r="1.25"/><circle cx="59.1" cy="85.6" r="1.25"/><circle cx="61.5" cy="83.9" r="1.25"/><circle cx="83.5" cy="81.0" r="1.25"/><circle cx="64.5" cy="85.7" r="1.25"/><circle cx="76.8" cy="81.0" r="1.25"/><circle cx="66.7" cy="81.0" r="1.25"/><circle cx="64.9" cy="85.9" r="1.25"/><circle cx="64.2" cy="81.2" r="1.25"/><circle cx="69.2" cy="85.0" r="1.25"/><circle cx="68.9" cy="84.6" r="1.25"/><circle cx="60.3" cy="78.1" r="1.25"/><circle cx="87.1" cy="86.4" r="1.25"/><circle cx="88.6" cy="79.5" r="1.25"/><circle cx="87.3" cy="84.5" r="1.25"/><circle cx="62.6" cy="77.8" r="1.25"/><circle cx="83.4" cy="81.9" r="1.25"/><circle cx="72.6" cy="82.8" r="1.25"/><circle cx="66.6" cy="85.3" r="1.25"/><circle cx="57.3" cy="85.6" r="1.25"/><circle cx="64.8" cy="83.5" r="1.25"/><circle cx="56.5" cy="81.0" r="1.25"/><circle cx="78.6" cy="78.8" r="1.25"/><circle cx="85.5" cy="78.0" r="1.25"/><circle cx="74.6" cy="78.9" r="1.25"/><circle cx="80.3" cy="86.4" r="1.25"/><circle cx="65.2" cy="85.8" r="1.25"/><circle cx="72.8" cy="82.8" r="1.25"/><circle cx="86.9" cy="84.7" r="1.25"/><circle cx="66.6" cy="83.3" r="1.25"/><circle cx="84.3" cy="85.4" r="1.25"/><circle cx="81.6" cy="84.3" r="1.25"/><circle cx="61.7" cy="85.0" r="1.25"/><circle cx="82.8" cy="83.9" r="1.25"/><circle cx="81.9" cy="85.8" r="1.25"/><circle cx="82.4" cy="78.1" r="1.25"/><circle cx="55.3" cy="80.7" r="1.25"/><circle cx="84.3" cy="83.2" r="1.25"/><circle cx="64.2" cy="86.2" r="1.25"/><circle cx="72.9" cy="85.4" r="1.25"/><circle cx="71.1" cy="84.6" r="1.25"/><circle cx="55.1" cy="81.5" r="1.25"/><circle cx="59.3" cy="86.2" r="1.25"/><circle cx="57.3" cy="86.0" r="1.25"/><circle cx="57.9" cy="80.1" r="1.25"/><circle cx="65.7" cy="84.1" r="1.25"/><circle cx="66.9" cy="85.2" r="1.25"/><circle cx="74.9" cy="83.0" r="1.25"/><circle cx="61.5" cy="84.9" r="1.25"/><circle cx="59.2" cy="85.1" r="1.25"/><circle cx="79.3" cy="83.8" r="1.25"/><circle cx="57.7" cy="84.8" r="1.25"/><circle cx="67.7" cy="85.8" r="1.25"/><circle cx="81.6" cy="83.4" r="1.25"/><circle cx="82.2" cy="84.8" r="1.25"/><circle cx="69.7" cy="83.2" r="1.25"/><circle cx="71.9" cy="84.9" r="1.25"/><circle cx="69.3" cy="82.4" r="1.25"/><circle cx="70.7" cy="82.5" r="1.25"/><circle cx="73.2" cy="85.5" r="1.25"/><circle cx="57.4" cy="82.5" r="1.25"/><circle cx="69.5" cy="84.6" r="1.25"/><circle cx="86.8" cy="79.5" r="1.25"/><circle cx="85.5" cy="84.9" r="1.25"/><circle cx="63.9" cy="81.3" r="1.25"/><circle cx="59.2" cy="84.4" r="1.25"/><circle cx="77.5" cy="80.9" r="1.25"/><circle cx="81.9" cy="79.3" r="1.25"/><circle cx="79.9" cy="82.8" r="1.25"/><circle cx="58.5" cy="83.7" r="1.25"/><circle cx="55.2" cy="83.5" r="1.25"/><circle cx="81.3" cy="85.9" r="1.25"/><circle cx="58.1" cy="86.3" r="1.25"/><circle cx="84.9" cy="86.1" r="1.25"/><circle cx="55.8" cy="85.8" r="1.25"/><circle cx="59.1" cy="80.4" r="1.25"/><circle cx="77.9" cy="80.3" r="1.25"/><circle cx="87.4" cy="80.5" r="1.25"/><circle cx="82.2" cy="83.6" r="1.25"/><circle cx="81.1" cy="86.3" r="1.25"/><circle cx="79.3" cy="84.1" r="1.25"/><circle cx="80.5" cy="86.0" r="1.25"/><circle cx="57.1" cy="77.5" r="1.25"/><circle cx="74.2" cy="85.1" r="1.25"/><circle cx="63.2" cy="80.6" r="1.25"/><circle cx="63.5" cy="85.8" r="1.25"/><circle cx="80.6" cy="83.3" r="1.25"/><circle cx="67.5" cy="84.8" r="1.25"/><circle cx="66.9" cy="84.7" r="1.25"/><circle cx="57.8" cy="84.6" r="1.25"/><circle cx="88.1" cy="84.1" r="1.25"/><circle cx="80.4" cy="84.7" r="1.25"/><circle cx="78.5" cy="85.8" r="1.25"/><circle cx="77.9" cy="81.8" r="1.25"/><circle cx="71.4" cy="84.0" r="1.25"/><circle cx="85.5" cy="83.0" r="1.25"/><circle cx="58.3" cy="85.9" r="1.25"/><circle cx="86.2" cy="81.9" r="1.25"/><circle cx="70.1" cy="84.0" r="1.25"/><circle cx="61.3" cy="82.3" r="1.25"/><circle cx="61.8" cy="85.4" r="1.25"/><circle cx="65.7" cy="83.5" r="1.25"/><circle cx="78.5" cy="85.5" r="1.25"/><circle cx="65.1" cy="76.4" r="1.25"/><circle cx="69.0" cy="82.4" r="1.25"/><circle cx="74.9" cy="80.1" r="1.25"/><circle cx="62.4" cy="85.4" r="1.25"/><circle cx="71.3" cy="86.3" r="1.25"/><circle cx="60.9" cy="84.8" r="1.25"/><circle cx="65.9" cy="84.9" r="1.25"/><circle cx="59.9" cy="81.5" r="1.25"/><circle cx="75.4" cy="84.3" r="1.25"/><circle cx="83.4" cy="84.3" r="1.25"/><circle cx="73.9" cy="80.8" r="1.25"/><circle cx="79.5" cy="84.3" r="1.25"/><circle cx="68.6" cy="80.1" r="1.25"/><circle cx="87.6" cy="82.1" r="1.25"/><circle cx="62.8" cy="84.3" r="1.25"/><circle cx="79.4" cy="85.5" r="1.25"/><circle cx="87.6" cy="82.7" r="1.25"/><circle cx="63.2" cy="80.1" r="1.25"/><circle cx="63.8" cy="85.7" r="1.25"/><circle cx="79.0" cy="85.7" r="1.25"/><circle cx="85.6" cy="80.0" r="1.25"/><circle cx="84.4" cy="85.4" r="1.25"/><circle cx="69.4" cy="85.2" r="1.25"/><circle cx="57.9" cy="82.1" r="1.25"/><circle cx="83.4" cy="86.1" r="1.25"/><circle cx="67.1" cy="85.3" r="1.25"/><circle cx="78.0" cy="83.6" r="1.25"/><circle cx="66.4" cy="86.4" r="1.25"/><circle cx="71.5" cy="84.5" r="1.25"/><circle cx="108.9" cy="85.9" r="1.25"/><circle cx="102.3" cy="80.1" r="1.25"/><circle cx="93.1" cy="84.8" r="1.25"/><circle cx="111.6" cy="85.7" r="1.25"/><circle cx="119.2" cy="86.2" r="1.25"/><circle cx="92.3" cy="81.5" r="1.25"/><circle cx="101.7" cy="80.6" r="1.25"/><circle cx="114.7" cy="83.4" r="1.25"/><circle cx="112.0" cy="85.7" r="1.25"/><circle cx="116.4" cy="84.2" r="1.25"/><circle cx="114.6" cy="85.8" r="1.25"/><circle cx="111.9" cy="79.8" r="1.25"/><circle cx="92.9" cy="84.8" r="1.25"/><circle cx="101.0" cy="85.0" r="1.25"/><circle cx="112.1" cy="83.8" r="1.25"/><circle cx="95.2" cy="84.7" r="1.25"/><circle cx="110.5" cy="84.3" r="1.25"/><circle cx="119.3" cy="86.0" r="1.25"/><circle cx="93.2" cy="84.2" r="1.25"/><circle cx="93.8" cy="80.9" r="1.25"/><circle cx="113.5" cy="85.6" r="1.25"/><circle cx="107.9" cy="84.5" r="1.25"/><circle cx="104.6" cy="84.3" r="1.25"/><circle cx="95.0" cy="85.6" r="1.25"/><circle cx="113.3" cy="86.3" r="1.25"/><circle cx="107.5" cy="83.5" r="1.25"/><circle cx="101.2" cy="83.7" r="1.25"/><circle cx="102.0" cy="85.8" r="1.25"/><circle cx="90.4" cy="82.2" r="1.25"/><circle cx="97.4" cy="85.0" r="1.25"/><circle cx="101.0" cy="83.4" r="1.25"/><circle cx="102.7" cy="85.6" r="1.25"/><circle cx="115.2" cy="84.8" r="1.25"/><circle cx="117.8" cy="85.5" r="1.25"/><circle cx="98.2" cy="86.2" r="1.25"/><circle cx="92.8" cy="86.2" r="1.25"/><circle cx="113.7" cy="83.3" r="1.25"/><circle cx="95.4" cy="86.0" r="1.25"/><circle cx="114.3" cy="85.3" r="1.25"/><circle cx="114.5" cy="82.9" r="1.25"/><circle cx="128.9" cy="84.2" r="1.25"/><circle cx="129.5" cy="85.2" r="1.25"/><circle cx="134.4" cy="84.6" r="1.25"/><circle cx="130.3" cy="85.8" r="1.25"/><circle cx="127.4" cy="82.7" r="1.25"/><circle cx="138.6" cy="82.4" r="1.25"/><circle cx="132.0" cy="79.1" r="1.25"/><circle cx="134.6" cy="84.4" r="1.25"/><circle cx="139.7" cy="83.9" r="1.25"/><circle cx="130.9" cy="83.6" r="1.25"/><circle cx="133.3" cy="81.6" r="1.25"/><circle cx="136.4" cy="84.1" r="1.25"/><circle cx="137.0" cy="86.4" r="1.25"/><circle cx="133.4" cy="83.7" r="1.25"/><circle cx="133.0" cy="84.6" r="1.25"/><circle cx="133.9" cy="85.9" r="1.25"/><circle cx="133.5" cy="86.3" r="1.25"/><circle cx="132.8" cy="83.9" r="1.25"/><circle cx="139.5" cy="84.4" r="1.25"/><circle cx="128.8" cy="80.9" r="1.25"/><circle cx="135.1" cy="82.5" r="1.25"/><circle cx="131.7" cy="86.3" r="1.25"/><circle cx="128.0" cy="85.7" r="1.25"/><circle cx="139.1" cy="84.5" r="1.25"/><circle cx="138.3" cy="85.4" r="1.25"/><circle cx="128.7" cy="83.5" r="1.25"/><circle cx="134.8" cy="81.6" r="1.25"/><circle cx="136.3" cy="80.0" r="1.25"/><circle cx="131.5" cy="83.1" r="1.25"/><circle cx="139.1" cy="82.4" r="1.25"/><circle cx="132.7" cy="81.6" r="1.25"/><circle cx="133.3" cy="82.9" r="1.25"/><circle cx="127.6" cy="86.1" r="1.25"/><circle cx="129.6" cy="86.2" r="1.25"/><circle cx="133.5" cy="86.0" r="1.25"/><circle cx="146.4" cy="81.0" r="1.25"/><circle cx="147.8" cy="83.9" r="1.25"/><circle cx="145.6" cy="84.8" r="1.25"/><circle cx="144.8" cy="80.0" r="1.25"/><circle cx="150.8" cy="85.5" r="1.25"/><circle cx="144.4" cy="80.7" r="1.25"/><circle cx="146.4" cy="84.3" r="1.25"/><circle cx="142.7" cy="82.3" r="1.25"/><circle cx="142.5" cy="86.4" r="1.25"/><circle cx="141.7" cy="79.5" r="1.25"/><circle cx="142.3" cy="83.6" r="1.25"/><circle cx="142.0" cy="85.3" r="1.25"/><circle cx="142.0" cy="84.1" r="1.25"/><circle cx="141.3" cy="86.3" r="1.25"/><circle cx="145.9" cy="85.6" r="1.25"/><circle cx="140.3" cy="86.1" r="1.25"/><circle cx="144.9" cy="83.7" r="1.25"/><circle cx="140.6" cy="80.9" r="1.25"/><circle cx="144.8" cy="84.1" r="1.25"/><circle cx="151.6" cy="86.3" r="1.25"/><circle cx="141.1" cy="85.3" r="1.25"/><circle cx="142.0" cy="83.5" r="1.25"/><circle cx="144.2" cy="82.0" r="1.25"/><circle cx="140.6" cy="85.8" r="1.25"/><circle cx="143.3" cy="80.6" r="1.25"/><circle cx="145.6" cy="79.4" r="1.25"/><circle cx="143.0" cy="84.8" r="1.25"/><circle cx="149.8" cy="85.0" r="1.25"/><circle cx="144.1" cy="81.9" r="1.25"/><circle cx="148.2" cy="86.0" r="1.25"/><circle cx="140.0" cy="82.4" r="1.25"/><circle cx="141.1" cy="86.3" r="1.25"/><circle cx="140.4" cy="85.6" r="1.25"/><circle cx="147.9" cy="86.2" r="1.25"/><circle cx="142.4" cy="76.0" r="1.25"/><circle cx="149.6" cy="83.5" r="1.25"/><circle cx="151.3" cy="75.2" r="1.25"/><circle cx="143.7" cy="86.2" r="1.25"/><circle cx="151.4" cy="82.2" r="1.25"/><circle cx="143.5" cy="86.0" r="1.25"/><circle cx="141.4" cy="77.9" r="1.25"/><circle cx="144.0" cy="84.2" r="1.25"/><circle cx="151.1" cy="81.3" r="1.25"/><circle cx="148.9" cy="85.5" r="1.25"/><circle cx="150.0" cy="80.5" r="1.25"/><circle cx="151.1" cy="82.8" r="1.25"/><circle cx="145.0" cy="84.4" r="1.25"/><circle cx="149.4" cy="85.2" r="1.25"/><circle cx="143.2" cy="83.5" r="1.25"/><circle cx="148.6" cy="85.6" r="1.25"/><circle cx="167.6" cy="84.7" r="1.25"/><circle cx="162.7" cy="85.5" r="1.25"/><circle cx="167.6" cy="86.1" r="1.25"/><circle cx="162.3" cy="86.4" r="1.25"/><circle cx="166.9" cy="83.8" r="1.25"/><circle cx="157.2" cy="86.2" r="1.25"/><circle cx="166.1" cy="83.0" r="1.25"/><circle cx="171.2" cy="82.5" r="1.25"/><circle cx="171.7" cy="85.3" r="1.25"/><circle cx="159.3" cy="84.0" r="1.25"/><circle cx="153.6" cy="85.6" r="1.25"/><circle cx="173.0" cy="85.5" r="1.25"/><circle cx="164.5" cy="86.2" r="1.25"/><circle cx="153.8" cy="86.2" r="1.25"/><circle cx="157.3" cy="84.5" r="1.25"/><circle cx="155.4" cy="86.3" r="1.25"/><circle cx="164.9" cy="84.5" r="1.25"/><circle cx="157.1" cy="86.4" r="1.25"/><circle cx="156.8" cy="80.1" r="1.25"/><circle cx="161.2" cy="84.9" r="1.25"/><circle cx="165.3" cy="83.6" r="1.25"/><circle cx="163.8" cy="83.5" r="1.25"/><circle cx="155.9" cy="86.0" r="1.25"/><circle cx="170.2" cy="86.2" r="1.25"/><circle cx="152.5" cy="86.2" r="1.25"/><circle cx="156.4" cy="80.2" r="1.25"/><circle cx="153.9" cy="82.3" r="1.25"/><circle cx="156.9" cy="85.2" r="1.25"/><circle cx="165.5" cy="83.1" r="1.25"/><circle cx="168.8" cy="84.5" r="1.25"/><circle cx="159.6" cy="82.6" r="1.25"/><circle cx="161.8" cy="84.7" r="1.25"/><circle cx="170.4" cy="86.2" r="1.25"/><circle cx="169.9" cy="84.7" r="1.25"/><circle cx="163.9" cy="86.0" r="1.25"/><circle cx="168.0" cy="85.3" r="1.25"/><circle cx="159.6" cy="86.3" r="1.25"/><circle cx="153.6" cy="85.2" r="1.25"/><circle cx="168.2" cy="84.9" r="1.25"/><circle cx="166.3" cy="85.4" r="1.25"/><circle cx="156.7" cy="84.7" r="1.25"/><circle cx="173.9" cy="85.6" r="1.25"/><circle cx="161.5" cy="85.6" r="1.25"/><circle cx="156.8" cy="86.2" r="1.25"/><circle cx="172.5" cy="86.1" r="1.25"/><circle cx="171.2" cy="84.0" r="1.25"/><circle cx="165.5" cy="78.5" r="1.25"/><circle cx="163.8" cy="81.5" r="1.25"/><circle cx="172.9" cy="85.4" r="1.25"/><circle cx="172.9" cy="82.1" r="1.25"/><circle cx="169.0" cy="85.2" r="1.25"/><circle cx="173.9" cy="85.4" r="1.25"/><circle cx="158.4" cy="81.8" r="1.25"/><circle cx="156.1" cy="81.4" r="1.25"/><circle cx="167.9" cy="86.2" r="1.25"/><circle cx="219.4" cy="85.5" r="1.25"/><circle cx="196.9" cy="83.9" r="1.25"/><circle cx="208.0" cy="83.0" r="1.25"/><circle cx="211.2" cy="85.0" r="1.25"/><circle cx="230.1" cy="83.1" r="1.25"/><circle cx="199.9" cy="85.6" r="1.25"/><circle cx="214.3" cy="85.5" r="1.25"/><circle cx="202.2" cy="86.2" r="1.25"/><circle cx="227.9" cy="82.9" r="1.25"/><circle cx="241.0" cy="77.2" r="1.25"/><circle cx="212.5" cy="81.3" r="1.25"/><circle cx="209.7" cy="86.0" r="1.25"/><circle cx="219.7" cy="84.9" r="1.25"/><circle cx="211.9" cy="84.5" r="1.25"/><circle cx="208.4" cy="81.7" r="1.25"/><circle cx="236.7" cy="84.9" r="1.25"/><circle cx="209.0" cy="82.4" r="1.25"/><circle cx="232.9" cy="85.7" r="1.25"/><circle cx="201.2" cy="86.4" r="1.25"/><circle cx="220.2" cy="84.5" r="1.25"/><circle cx="197.4" cy="86.0" r="1.25"/><circle cx="231.2" cy="85.8" r="1.25"/><circle cx="241.0" cy="84.9" r="1.25"/><circle cx="241.0" cy="82.6" r="1.25"/><circle cx="203.7" cy="86.3" r="1.25"/><circle cx="215.3" cy="86.4" r="1.25"/><circle cx="197.4" cy="85.4" r="1.25"/><circle cx="199.4" cy="84.5" r="1.25"/><circle cx="206.6" cy="85.5" r="1.25"/><circle cx="214.7" cy="82.4" r="1.25"/><circle cx="197.1" cy="85.7" r="1.25"/><circle cx="224.5" cy="85.0" r="1.25"/><circle cx="237.9" cy="83.6" r="1.25"/><circle cx="206.6" cy="82.3" r="1.25"/><circle cx="230.6" cy="86.0" r="1.25"/><circle cx="218.9" cy="82.6" r="1.25"/><circle cx="220.9" cy="82.0" r="1.25"/><circle cx="202.9" cy="85.6" r="1.25"/><circle cx="225.2" cy="86.4" r="1.25"/><circle cx="237.6" cy="80.8" r="1.25"/><circle cx="226.3" cy="84.9" r="1.25"/><circle cx="233.3" cy="79.9" r="1.25"/><circle cx="214.5" cy="84.1" r="1.25"/><circle cx="203.0" cy="84.6" r="1.25"/><circle cx="227.1" cy="85.9" r="1.25"/><circle cx="214.2" cy="84.5" r="1.25"/><circle cx="216.4" cy="85.3" r="1.25"/><circle cx="216.3" cy="82.4" r="1.25"/><circle cx="202.3" cy="78.6" r="1.25"/><circle cx="219.5" cy="85.5" r="1.25"/><circle cx="235.0" cy="85.1" r="1.25"/><circle cx="238.8" cy="82.1" r="1.25"/><circle cx="196.4" cy="84.1" r="1.25"/><circle cx="220.8" cy="84.3" r="1.25"/><circle cx="208.2" cy="84.8" r="1.25"/><circle cx="237.8" cy="83.4" r="1.25"/><circle cx="226.4" cy="86.1" r="1.25"/><circle cx="219.2" cy="85.3" r="1.25"/><circle cx="240.1" cy="80.9" r="1.25"/><circle cx="204.2" cy="83.9" r="1.25"/><circle cx="203.5" cy="80.2" r="1.25"/><circle cx="233.9" cy="85.2" r="1.25"/><circle cx="207.7" cy="85.5" r="1.25"/><circle cx="239.4" cy="79.1" r="1.25"/><circle cx="213.4" cy="85.5" r="1.25"/><circle cx="201.2" cy="85.6" r="1.25"/><circle cx="241.1" cy="85.7" r="1.25"/><circle cx="205.8" cy="86.2" r="1.25"/><circle cx="198.7" cy="85.9" r="1.25"/><circle cx="229.9" cy="84.6" r="1.25"/><circle cx="224.7" cy="81.9" r="1.25"/><circle cx="195.3" cy="82.2" r="1.25"/><circle cx="240.2" cy="85.6" r="1.25"/><circle cx="207.6" cy="86.2" r="1.25"/><circle cx="207.6" cy="84.8" r="1.25"/><circle cx="197.2" cy="84.5" r="1.25"/><circle cx="240.0" cy="85.7" r="1.25"/><circle cx="237.6" cy="86.0" r="1.25"/><circle cx="241.7" cy="85.9" r="1.25"/><circle cx="225.4" cy="83.6" r="1.25"/><circle cx="197.6" cy="86.0" r="1.25"/><circle cx="203.3" cy="82.9" r="1.25"/><circle cx="233.7" cy="85.9" r="1.25"/><circle cx="197.3" cy="81.3" r="1.25"/><circle cx="220.1" cy="78.5" r="1.25"/><circle cx="200.0" cy="85.2" r="1.25"/><circle cx="241.4" cy="85.2" r="1.25"/><circle cx="201.2" cy="85.6" r="1.25"/><circle cx="201.0" cy="86.0" r="1.25"/><circle cx="238.0" cy="85.3" r="1.25"/><circle cx="204.0" cy="86.2" r="1.25"/><circle cx="241.9" cy="79.5" r="1.25"/><circle cx="206.6" cy="76.8" r="1.25"/><circle cx="239.7" cy="85.3" r="1.25"/><circle cx="228.1" cy="84.8" r="1.25"/><circle cx="196.0" cy="85.5" r="1.25"/><circle cx="230.2" cy="85.4" r="1.25"/><circle cx="221.7" cy="82.7" r="1.25"/><circle cx="220.3" cy="84.9" r="1.25"/><circle cx="220.1" cy="85.0" r="1.25"/><circle cx="204.4" cy="82.0" r="1.25"/><circle cx="238.8" cy="84.2" r="1.25"/><circle cx="203.4" cy="81.8" r="1.25"/><circle cx="234.5" cy="78.3" r="1.25"/><circle cx="207.5" cy="85.9" r="1.25"/><circle cx="197.5" cy="85.8" r="1.25"/><circle cx="214.2" cy="77.0" r="1.25"/><circle cx="200.4" cy="81.3" r="1.25"/><circle cx="235.9" cy="86.4" r="1.25"/><circle cx="241.6" cy="82.5" r="1.25"/><circle cx="219.7" cy="83.6" r="1.25"/><circle cx="199.3" cy="82.8" r="1.25"/><circle cx="215.7" cy="84.5" r="1.25"/><circle cx="223.2" cy="86.0" r="1.25"/><circle cx="218.8" cy="85.4" r="1.25"/><circle cx="210.0" cy="85.3" r="1.25"/><circle cx="223.2" cy="85.3" r="1.25"/><circle cx="239.0" cy="76.7" r="1.25"/><circle cx="234.3" cy="81.5" r="1.25"/><circle cx="240.9" cy="85.6" r="1.25"/><circle cx="200.8" cy="85.6" r="1.25"/><circle cx="229.4" cy="84.7" r="1.25"/><circle cx="225.3" cy="85.4" r="1.25"/><circle cx="240.4" cy="85.6" r="1.25"/><circle cx="217.5" cy="84.9" r="1.25"/><circle cx="236.1" cy="84.5" r="1.25"/><circle cx="219.8" cy="75.8" r="1.25"/><circle cx="224.0" cy="85.0" r="1.25"/><circle cx="215.0" cy="86.2" r="1.25"/><circle cx="231.5" cy="81.8" r="1.25"/><circle cx="235.2" cy="86.3" r="1.25"/><circle cx="241.1" cy="85.2" r="1.25"/><circle cx="205.1" cy="85.3" r="1.25"/><circle cx="236.5" cy="84.4" r="1.25"/><circle cx="235.8" cy="85.0" r="1.25"/><circle cx="212.0" cy="83.4" r="1.25"/><circle cx="218.8" cy="85.5" r="1.25"/><circle cx="212.5" cy="85.2" r="1.25"/><circle cx="236.1" cy="83.8" r="1.25"/><circle cx="201.9" cy="84.2" r="1.25"/><circle cx="212.4" cy="85.8" r="1.25"/><circle cx="201.6" cy="84.1" r="1.25"/><circle cx="210.1" cy="86.2" r="1.25"/><circle cx="196.4" cy="85.6" r="1.25"/><circle cx="238.3" cy="84.5" r="1.25"/><circle cx="229.7" cy="84.5" r="1.25"/><circle cx="234.4" cy="82.1" r="1.25"/><circle cx="215.7" cy="80.4" r="1.25"/><circle cx="200.7" cy="83.6" r="1.25"/><circle cx="212.8" cy="81.2" r="1.25"/><circle cx="236.8" cy="84.8" r="1.25"/><circle cx="203.9" cy="85.6" r="1.25"/><circle cx="223.1" cy="82.1" r="1.25"/><circle cx="196.3" cy="86.2" r="1.25"/><circle cx="195.4" cy="85.3" r="1.25"/><circle cx="203.6" cy="82.0" r="1.25"/><circle cx="213.3" cy="85.6" r="1.25"/><circle cx="215.3" cy="84.6" r="1.25"/><circle cx="226.0" cy="84.0" r="1.25"/><circle cx="199.6" cy="85.0" r="1.25"/><circle cx="227.5" cy="76.9" r="1.25"/><circle cx="215.8" cy="86.2" r="1.25"/><circle cx="241.6" cy="83.0" r="1.25"/><circle cx="195.4" cy="86.2" r="1.25"/><circle cx="214.8" cy="84.8" r="1.25"/><circle cx="233.8" cy="80.9" r="1.25"/><circle cx="214.7" cy="85.4" r="1.25"/><circle cx="236.6" cy="84.3" r="1.25"/><circle cx="213.4" cy="85.8" r="1.25"/><circle cx="225.1" cy="86.2" r="1.25"/><circle cx="238.9" cy="86.3" r="1.25"/><circle cx="222.0" cy="84.6" r="1.25"/><circle cx="205.9" cy="86.2" r="1.25"/><circle cx="235.3" cy="84.8" r="1.25"/><circle cx="208.4" cy="84.5" r="1.25"/><circle cx="226.1" cy="76.5" r="1.25"/><circle cx="204.5" cy="84.6" r="1.25"/><circle cx="237.3" cy="85.5" r="1.25"/><circle cx="220.0" cy="86.1" r="1.25"/><circle cx="211.7" cy="84.0" r="1.25"/></g>
<g fill="#e81818"><circle cx="192.0" cy="58.3" r="0.90"/><circle cx="193.8" cy="60.8" r="0.90"/><circle cx="185.7" cy="62.0" r="0.90"/><circle cx="45.4" cy="78.3" r="1.15"/><circle cx="45.6" cy="79.3" r="1.15"/><circle cx="45.6" cy="80.4" r="1.15"/><circle cx="45.5" cy="81.4" r="1.15"/><circle cx="44.7" cy="82.4" r="1.15"/><circle cx="44.3" cy="83.5" r="1.15"/><circle cx="45.1" cy="84.5" r="1.15"/><circle cx="44.7" cy="85.5" r="1.15"/><circle cx="44.4" cy="86.6" r="1.15"/><circle cx="46.3" cy="87.6" r="1.15"/><circle cx="46.0" cy="84.7" r="1.15"/><circle cx="44.3" cy="87.4" r="1.15"/><circle cx="45.0" cy="87.3" r="1.15"/><circle cx="44.4" cy="84.7" r="1.15"/><circle cx="45.2" cy="84.0" r="1.15"/><circle cx="54.4" cy="74.9" r="1.15"/><circle cx="54.8" cy="76.1" r="1.15"/><circle cx="54.9" cy="77.2" r="1.15"/><circle cx="53.9" cy="78.4" r="1.15"/><circle cx="54.3" cy="79.5" r="1.15"/><circle cx="54.3" cy="80.7" r="1.15"/><circle cx="53.9" cy="81.8" r="1.15"/><circle cx="54.0" cy="83.0" r="1.15"/><circle cx="53.9" cy="84.1" r="1.15"/><circle cx="55.0" cy="85.3" r="1.15"/><circle cx="54.1" cy="86.4" r="1.15"/><circle cx="53.3" cy="87.6" r="1.15"/><circle cx="54.4" cy="83.6" r="1.15"/><circle cx="53.9" cy="85.4" r="1.15"/><circle cx="53.8" cy="86.1" r="1.15"/><circle cx="54.8" cy="85.9" r="1.15"/><circle cx="55.1" cy="83.4" r="1.15"/><circle cx="54.6" cy="84.5" r="1.15"/><circle cx="185.6" cy="74.5" r="1.00"/><circle cx="185.6" cy="75.5" r="1.00"/><circle cx="185.4" cy="76.5" r="1.00"/><circle cx="185.0" cy="77.6" r="1.00"/><circle cx="185.8" cy="78.6" r="1.00"/><circle cx="186.0" cy="79.6" r="1.00"/><circle cx="185.5" cy="80.6" r="1.00"/><circle cx="185.6" cy="81.7" r="1.00"/><circle cx="185.1" cy="82.7" r="1.00"/><circle cx="186.3" cy="83.7" r="1.00"/><circle cx="185.9" cy="84.7" r="1.00"/><circle cx="184.9" cy="85.8" r="1.00"/><circle cx="186.3" cy="86.8" r="1.00"/><circle cx="186.8" cy="87.8" r="1.00"/><circle cx="186.7" cy="84.3" r="1.00"/><circle cx="184.7" cy="85.1" r="1.00"/><circle cx="185.1" cy="86.3" r="1.00"/><circle cx="185.7" cy="86.4" r="1.00"/><circle cx="185.6" cy="83.1" r="1.00"/><circle cx="185.4" cy="87.0" r="1.00"/><circle cx="186.4" cy="85.3" r="1.00"/><circle cx="193.5" cy="73.0" r="1.00"/><circle cx="193.5" cy="74.1" r="1.00"/><circle cx="193.6" cy="75.3" r="1.00"/><circle cx="193.8" cy="76.4" r="1.00"/><circle cx="193.1" cy="77.6" r="1.00"/><circle cx="192.9" cy="78.7" r="1.00"/><circle cx="193.9" cy="79.8" r="1.00"/><circle cx="193.6" cy="81.0" r="1.00"/><circle cx="193.1" cy="82.1" r="1.00"/><circle cx="194.3" cy="83.2" r="1.00"/><circle cx="194.3" cy="84.4" r="1.00"/><circle cx="193.6" cy="85.5" r="1.00"/><circle cx="194.7" cy="86.7" r="1.00"/><circle cx="194.4" cy="87.8" r="1.00"/><circle cx="193.0" cy="86.3" r="1.00"/><circle cx="193.9" cy="81.9" r="1.00"/><circle cx="193.1" cy="86.2" r="1.00"/><circle cx="193.7" cy="84.7" r="1.00"/><circle cx="194.0" cy="83.4" r="1.00"/><circle cx="193.2" cy="85.2" r="1.00"/><circle cx="193.6" cy="82.5" r="1.00"/></g>
</g>
<g transform="translate(262.2 134.2)">
<use href="#tpl"/>
<g fill="#0e0e88"><circle cx="44.9" cy="76.0" r="1.25"/><circle cx="62.3" cy="74.9" r="1.25"/><circle cx="64.6" cy="76.0" r="1.25"/><circle cx="68.4" cy="76.0" r="1.25"/><circle cx="84.2" cy="76.0" r="1.25"/><circle cx="92.3" cy="72.6" r="1.25"/><circle cx="93.4" cy="74.9" r="1.25"/><circle cx="99.2" cy="72.6" r="1.25"/><circle cx="101.5" cy="73.7" r="1.25"/><circle cx="108.4" cy="77.2" r="1.25"/><circle cx="109.6" cy="78.3" r="1.25"/><circle cx="97.0" cy="80.6" r="1.25"/><circle cx="115.0" cy="81.3" r="1.25"/><circle cx="145.7" cy="77.2" r="1.25"/><circle cx="160.7" cy="78.3" r="1.25"/><circle cx="206.9" cy="74.9" r="1.25"/><circle cx="215.0" cy="73.7" r="1.25"/><circle cx="223.0" cy="74.9" r="1.25"/><circle cx="212.5" cy="76.0" r="1.25"/><circle cx="217.3" cy="77.2" r="1.25"/><circle cx="236.9" cy="78.3" r="1.25"/><circle cx="36.5" cy="86.0" r="1.25"/><circle cx="37.3" cy="85.6" r="1.25"/><circle cx="41.0" cy="86.3" r="1.25"/><circle cx="47.0" cy="82.3" r="1.25"/><circle cx="38.3" cy="84.0" r="1.25"/><circle cx="39.2" cy="85.1" r="1.25"/><circle cx="36.6" cy="86.1" r="1.25"/><circle cx="48.9" cy="86.0" r="1.25"/><circle cx="47.1" cy="83.5" r="1.25"/><circle cx="37.9" cy="83.8" r="1.25"/><circle cx="44.4" cy="85.8" r="1.25"/><circle cx="47.8" cy="84.2" r="1.25"/><circle cx="36.3" cy="82.9" r="1.25"/><circle cx="45.1" cy="84.9" r="1.25"/><circle cx="37.7" cy="85.2" r="1.25"/><circle cx="36.3" cy="85.4" r="1.25"/><circle cx="48.0" cy="81.9" r="1.25"/><circle cx="39.5" cy="85.1" r="1.25"/><circle cx="43.6" cy="82.5" r="1.25"/><circle cx="47.7" cy="82.9" r="1.25"/><circle cx="41.2" cy="85.2" r="1.25"/><circle cx="41.5" cy="84.9" r="1.25"/><circle cx="39.6" cy="86.1" r="1.25"/><circle cx="35.6" cy="83.7" r="1.25"/><circle cx="44.4" cy="86.3" r="1.25"/><circle cx="43.0" cy="85.9" r="1.25"/><circle cx="40.1" cy="85.4" r="1.25"/><circle cx="41.2" cy="86.0" r="1.25"/><circle cx="44.5" cy="86.0" r="1.25"/><circle cx="40.3" cy="85.9" r="1.25"/><circle cx="39.8" cy="84.2" r="1.25"/><circle cx="48.6" cy="85.1" r="1.25"/><circle cx="35.9" cy="86.2" r="1.25"/><circle cx="46.5" cy="86.0" r="1.25"/><circle cx="38.6" cy="84.8" r="1.25"/><circle cx="37.7" cy="85.7" r="1.25"/><circle cx="35.6" cy="85.4" r="1.25"/><circle cx="48.4" cy="84.4" r="1.25"/><circle cx="49.4" cy="84.2" r="1.25"/><circle cx="39.3" cy="86.4" r="1.25"/><circle cx="41.2" cy="84.0" r="1.25"/><circle cx="47.3" cy="84.8" r="1.25"/><circle cx="37.9" cy="85.8" r="1.25"/><circle cx="37.0" cy="85.4" r="1.25"/><circle cx="49.4" cy="85.6" r="1.25"/><circle cx="35.1" cy="85.7" r="1.25"/><circle cx="37.5" cy="86.3" r="1.25"/><circle cx="40.4" cy="83.9" r="1.25"/><circle cx="36.5" cy="85.8" r="1.25"/><circle cx="38.1" cy="85.5" r="1.25"/><circle cx="35.8" cy="86.3" r="1.25"/><circle cx="45.2" cy="86.1" r="1.25"/><circle cx="35.6" cy="86.1" r="1.25"/><circle cx="38.7" cy="85.3" r="1.25"/><circle cx="42.9" cy="86.2" r="1.25"/><circle cx="69.3" cy="81.8" r="1.25"/><circle cx="63.5" cy="84.4" r="1.25"/><circle cx="56.3" cy="84.8" r="1.25"/><circle cx="63.7" cy="84.7" r="1.25"/><circle cx="84.1" cy="79.7" r="1.25"/><circle cx="56.1" cy="84.3" r="1.25"/><circle cx="63.5" cy="85.5" r="1.25"/><circle cx="63.1" cy="85.7" r="1.25"/><circle cx="60.0" cy="80.2" r="1.25"/><circle cx="87.5" cy="86.2" r="1.25"/><circle cx="89.7" cy="83.8" r="1.25"/><circle cx="86.5" cy="84.8" r="1.25"/><circle cx="82.7" cy="83.1" r="1.25"/><circle cx="72.3" cy="82.2" r="1.25"/><circle cx="62.4" cy="86.1" r="1.25"/><circle cx="86.5" cy="80.1" r="1.25"/><circle cx="66.8" cy="78.5" r="1.25"/><circle cx="83.0" cy="83.1" r="1.25"/><circle cx="83.5" cy="83.2" r="1.25"/><circle cx="77.9" cy="84.1" r="1.25"/><circle cx="64.4" cy="82.9" r="1.25"/><circle cx="88.5" cy="78.6" r="1.25"/><circle cx="89.0" cy="86.2" r="1.25"/><circle cx="56.6" cy="83.0" r="1.25"/><circle cx="59.5" cy="79.4" r="1.25"/><circle cx="57.1" cy="83.0" r="1.25"/><circle cx="77.2" cy="85.8" r="1.25"/><circle cx="81.1" cy="83.8" r="1.25"/><circle cx="62.6" cy="78.4" r="1.25"/><circle cx="87.3" cy="86.4" r="1.25"/><circle cx="85.7" cy="86.4" r="1.25"/><circle cx="83.3" cy="86.0" r="1.25"/><circle cx="85.7" cy="81.7" r="1.25"/><circle cx="85.8" cy="83.9" r="1.25"/><circle cx="78.5" cy="85.7" r="1.25"/><circle cx="86.2" cy="85.2" r="1.25"/><circle cx="71.5" cy="81.8" r="1.25"/><circle cx="55.9" cy="84.1" r="1.25"/><circle cx="75.8" cy="86.3" r="1.25"/><circle cx="85.3" cy="84.3" r="1.25"/><circle cx="59.9" cy="83.5" r="1.25"/><circle cx="81.9" cy="85.0" r="1.25"/><circle cx="55.4" cy="84.1" r="1.25"/><circle cx="84.0" cy="80.8" r="1.25"/><circle cx="74.0" cy="86.1" r="1.25"/><circle cx="82.6" cy="84.9" r="1.25"/><circle cx="63.2" cy="85.3" r="1.25"/><circle cx="88.8" cy="84.4" r="1.25"/><circle cx="59.0" cy="86.1" r="1.25"/><circle cx="86.0" cy="83.4" r="1.25"/><circle cx="70.2" cy="84.2" r="1.25"/><circle cx="82.2" cy="80.4" r="1.25"/><circle cx="85.8" cy="86.2" r="1.25"/><circle cx="65.6" cy="85.7" r="1.25"/><circle cx="69.8" cy="80.9" r="1.25"/><circle cx="60.9" cy="81.5" r="1.25"/><circle cx="61.2" cy="80.0" r="1.25"/><circle cx="72.3" cy="85.9" r="1.25"/><circle cx="74.0" cy="85.1" r="1.25"/><circle cx="79.9" cy="79.2" r="1.25"/><circle cx="65.9" cy="86.4" r="1.25"/><circle cx="72.0" cy="84.0" r="1.25"/><circle cx="71.9" cy="82.5" r="1.25"/><circle cx="63.6" cy="86.2" r="1.25"/><circle cx="67.5" cy="80.6" r="1.25"/><circle cx="89.5" cy="81.9" r="1.25"/><circle cx="78.7" cy="83.4" r="1.25"/><circle cx="66.0" cy="83.5" r="1.25"/><circle cx="71.3" cy="78.9" r="1.25"/><circle cx="65.7" cy="79.0" r="1.25"/><circle cx="82.5" cy="80.2" r="1.25"/><circle cx="70.5" cy="83.5" r="1.25"/><circle cx="82.0" cy="85.9" r="1.25"/><circle cx="78.2" cy="85.0" r="1.25"/><circle cx="57.9" cy="86.0" r="1.25"/><circle cx="83.3" cy="85.9" r="1.25"/><circle cx="86.6" cy="85.8" r="1.25"/><circle cx="75.2" cy="85.0" r="1.25"/><circle cx="76.7" cy="85.1" r="1.25"/><circle cx="69.1" cy="86.1" r="1.25"/><circle cx="61.3" cy="78.0" r="1.25"/><circle cx="66.4" cy="83.1" r="1.25"/><circle cx="55.8" cy="85.3" r="1.25"/><circle cx="88.2" cy="86.3" r="1.25"/><circle cx="83.0" cy="81.0" r="1.25"/><circle cx="88.4" cy="81.4" r="1.25"/><circle cx="75.4" cy="85.9" r="1.25"/><circle cx="75.1" cy="84.3" r="1.25"/><circle cx="81.6" cy="77.9" r="1.25"/><circle cx="77.8" cy="86.0" r="1.25"/><circle cx="81.1" cy="83.0" r="1.25"/><circle cx="84.1" cy="83.5" r="1.25"/><circle cx="87.5" cy="85.3" r="1.25"/><circle cx="76.0" cy="84.8" r="1.25"/><circle cx="79.6" cy="79.4" r="1.25"/><circle cx="63.1" cy="85.3" r="1.25"/><circle cx="76.9" cy="85.2" r="1.25"/><circle cx="69.0" cy="79.4" r="1.25"/><circle cx="83.6" cy="84.8" r="1.25"/><circle cx="69.4" cy="85.4" r="1.25"/><circle cx="61.4" cy="86.4" r="1.25"/><circle cx="79.3" cy="84.0" r="1.25"/><circle cx="67.8" cy="83.5" r="1.25"/><circle cx="76.8" cy="77.2" r="1.25"/><circle cx="57.4" cy="85.9" r="1.25"/><circle cx="76.1" cy="78.7" r="1.25"/><circle cx="58.2" cy="85.3" r="1.25"/><circle cx="62.8" cy="85.5" r="1.25"/><circle cx="86.2" cy="78.3" r="1.25"/><circle cx="60.2" cy="81.8" r="1.25"/><circle cx="65.5" cy="85.6" r="1.25"/><circle cx="60.7" cy="77.3" r="1.25"/><circle cx="78.8" cy="81.6" r="1.25"/><circle cx="88.6" cy="84.0" r="1.25"/><circle cx="73.4" cy="85.5" r="1.25"/><circle cx="58.4" cy="85.9" r="1.25"/><circle cx="66.1" cy="86.3" r="1.25"/><circle cx="57.1" cy="86.0" r="1.25"/><circle cx="86.2" cy="85.4" r="1.25"/><circle cx="80.6" cy="82.7" r="1.25"/><circle cx="88.3" cy="83.1" r="1.25"/><circle cx="80.2" cy="79.9" r="1.25"/><circle cx="79.3" cy="83.9" r="1.25"/><circle cx="74.3" cy="82.5" r="1.25"/><circle cx="60.4" cy="84.3" r="1.25"/><circle cx="71.9" cy="80.7" r="1.25"/><circle cx="60.9" cy="86.2" r="1.25"/><circle cx="64.0" cy="80.0" r="1.25"/><circle cx="78.9" cy="84.9" r="1.25"/><circle cx="66.5" cy="80.3" r="1.25"/><circle cx="69.8" cy="84.9" r="1.25"/><circle cx="85.7" cy="86.3" r="1.25"/><circle cx="88.6" cy="86.3" r="1.25"/><circle cx="60.5" cy="85.9" r="1.25"/><circle cx="83.8" cy="80.6" r="1.25"/><circle cx="74.4" cy="85.6" r="1.25"/><circle cx="80.1" cy="84.4" r="1.25"/><circle cx="83.9" cy="85.8" r="1.25"/><circle cx="87.2" cy="82.6" r="1.25"/><circle cx="68.3" cy="77.9" r="1.25"/><circle cx="84.2" cy="80.6" r="1.25"/><circle cx="58.8" cy="83.7" r="1.25"/><circle cx="86.9" cy="83.4" r="1.25"/><circle cx="77.6" cy="85.3" r="1.25"/><circle cx="76.0" cy="79.4" r="1.25"/><circle cx="77.1" cy="86.3" r="1.25"/><circle cx="85.0" cy="85.5" r="1.25"/><circle cx="65.8" cy="83.1" r="1.25"/><circle cx="76.9" cy="79.5" r="1.25"/><circle cx="84.2" cy="85.1" r="1.25"/><circle cx="100.7" cy="81.9" r="1.25"/><circle cx="97.9" cy="82.0" r="1.25"/><circle cx="97.3" cy="83.9" r="1.25"/><circle cx="101.8" cy="84.9" r="1.25"/><circle cx="91.0" cy="85.5" r="1.25"/><circle cx="96.0" cy="83.8" r="1.25"/><circle cx="97.2" cy="84.8" r="1.25"/><circle cx="92.4" cy="85.8" r="1.25"/><circle cx="99.4" cy="86.2" r="1.25"/><circle cx="98.4" cy="81.5" r="1.25"/><circle cx="101.7" cy="86.1" r="1.25"/><circle cx="96.1" cy="82.8" r="1.25"/><circle cx="118.0" cy="86.4" r="1.25"/><circle cx="113.8" cy="84.0" r="1.25"/><circle cx="115.9" cy="86.4" r="1.25"/><circle cx="111.1" cy="86.3" r="1.25"/><circle cx="108.8" cy="86.0" r="1.25"/><circle cx="116.2" cy="81.0" r="1.25"/><circle cx="107.7" cy="82.3" r="1.25"/><circle cx="113.5" cy="85.2" r="1.25"/><circle cx="109.8" cy="86.3" r="1.25"/><circle cx="118.4" cy="83.0" r="1.25"/><circle cx="115.1" cy="85.5" r="1.25"/><circle cx="115.4" cy="82.6" r="1.25"/><circle cx="105.3" cy="85.0" r="1.25"/><circle cx="118.9" cy="86.4" r="1.25"/><circle cx="107.2" cy="79.8" r="1.25"/><circle cx="109.7" cy="82.9" r="1.25"/><circle cx="118.0" cy="84.0" r="1.25"/><circle cx="113.8" cy="85.5" r="1.25"/><circle cx="111.7" cy="85.7" r="1.25"/><circle cx="107.0" cy="86.3" r="1.25"/><circle cx="119.4" cy="85.6" r="1.25"/><circle cx="116.4" cy="86.1" r="1.25"/><circle cx="120.7" cy="86.2" r="1.25"/><circle cx="103.8" cy="86.0" r="1.25"/><circle cx="119.7" cy="85.8" r="1.25"/><circle cx="118.9" cy="83.7" r="1.25"/><circle cx="104.2" cy="84.7" r="1.25"/><circle cx="110.7" cy="85.4" r="1.25"/><circle cx="106.6" cy="86.0" r="1.25"/><circle cx="104.2" cy="81.9" r="1.25"/><circle cx="112.8" cy="85.5" r="1.25"/><circle cx="119.2" cy="83.8" r="1.25"/><circle cx="118.1" cy="86.2" r="1.25"/><circle cx="115.6" cy="85.9" r="1.25"/><circle cx="116.6" cy="86.3" r="1.25"/><circle cx="133.2" cy="85.9" r="1.25"/><circle cx="135.9" cy="86.3" r="1.25"/><circle cx="150.6" cy="85.4" r="1.25"/><circle cx="136.8" cy="84.1" r="1.25"/><circle cx="133.4" cy="85.9" r="1.25"/><circle cx="149.9" cy="78.7" r="1.25"/><circle cx="150.5" cy="83.6" r="1.25"/><circle cx="148.8" cy="86.3" r="1.25"/><circle cx="143.6" cy="83.4" r="1.25"/><circle cx="130.9" cy="81.9" r="1.25"/><circle cx="131.7" cy="85.9" r="1.25"/><circle cx="140.8" cy="84.8" r="1.25"/><circle cx="136.7" cy="84.5" r="1.25"/><circle cx="147.4" cy="83.1" r="1.25"/><circle cx="129.4" cy="82.9" r="1.25"/><circle cx="133.5" cy="86.0" r="1.25"/><circle cx="141.5" cy="85.7" r="1.25"/><circle cx="142.6" cy="85.9" r="1.25"/><circle cx="136.7" cy="85.4" r="1.25"/><circle cx="149.8" cy="83.4" r="1.25"/><circle cx="136.4" cy="85.9" r="1.25"/><circle cx="129.2" cy="85.8" r="1.25"/><circle cx="147.1" cy="85.9" r="1.25"/><circle cx="149.6" cy="83.2" r="1.25"/><circle cx="129.5" cy="84.7" r="1.25"/><circle cx="144.7" cy="85.5" r="1.25"/><circle cx="131.7" cy="85.2" r="1.25"/><circle cx="139.0" cy="85.2" r="1.25"/><circle cx="138.6" cy="85.3" r="1.25"/><circle cx="129.3" cy="86.0" r="1.25"/><circle cx="145.0" cy="82.6" r="1.25"/><circle cx="131.2" cy="85.1" r="1.25"/><circle cx="141.1" cy="85.5" r="1.25"/><circle cx="139.4" cy="80.9" r="1.25"/><circle cx="132.7" cy="84.6" r="1.25"/><circle cx="142.0" cy="84.1" r="1.25"/><circle cx="144.8" cy="84.2" r="1.25"/><circle cx="138.4" cy="86.3" r="1.25"/><circle cx="131.7" cy="82.5" r="1.25"/><circle cx="132.7" cy="86.3" r="1.25"/><circle cx="138.3" cy="85.6" r="1.25"/><circle cx="142.8" cy="85.5" r="1.25"/><circle cx="136.3" cy="85.9" r="1.25"/><circle cx="140.8" cy="83.6" r="1.25"/><circle cx="149.6" cy="78.6" r="1.25"/><circle cx="136.1" cy="85.7" r="1.25"/><circle cx="140.8" cy="84.5" r="1.25"/><circle cx="147.9" cy="85.3" r="1.25"/><circle cx="139.2" cy="85.9" r="1.25"/><circle cx="148.4" cy="86.1" r="1.25"/><circle cx="150.7" cy="84.2" r="1.25"/><circle cx="144.5" cy="86.0" r="1.25"/><circle cx="129.8" cy="84.2" r="1.25"/><circle cx="148.2" cy="82.2" r="1.25"/><circle cx="149.7" cy="86.2" r="1.25"/><circle cx="142.1" cy="82.6" r="1.25"/><circle cx="134.5" cy="84.5" r="1.25"/><circle cx="139.3" cy="86.3" r="1.25"/><circle cx="133.3" cy="81.5" r="1.25"/><circle cx="134.9" cy="84.8" r="1.25"/><circle cx="150.1" cy="83.5" r="1.25"/><circle cx="135.0" cy="81.0" r="1.25"/><circle cx="128.7" cy="85.1" r="1.25"/><circle cx="147.7" cy="84.6" r="1.25"/><circle cx="130.2" cy="81.8" r="1.25"/><circle cx="153.7" cy="85.2" r="1.25"/><circle cx="171.2" cy="85.3" r="1.25"/><circle cx="169.8" cy="85.7" r="1.25"/><circle cx="169.2" cy="80.1" r="1.25"/><circle cx="171.3" cy="85.9" r="1.25"/><circle cx="173.0" cy="81.2" r="1.25"/><circle cx="152.1" cy="86.4" r="1.25"/><circle cx="162.9" cy="85.7" r="1.25"/><circle cx="153.9" cy="85.3" r="1.25"/><circle cx="166.0" cy="84.3" r="1.25"/><circle cx="162.7" cy="84.4" r="1.25"/><circle cx="166.5" cy="84.8" r="1.25"/><circle cx="161.2" cy="86.3" r="1.25"/><circle cx="154.2" cy="86.1" r="1.25"/><circle cx="158.8" cy="83.5" r="1.25"/><circle cx="157.8" cy="85.6" r="1.25"/><circle cx="154.5" cy="84.6" r="1.25"/><circle cx="153.5" cy="84.3" r="1.25"/><circle cx="155.3" cy="80.1" r="1.25"/><circle cx="163.5" cy="83.4" r="1.25"/><circle cx="158.4" cy="85.3" r="1.25"/><circle cx="167.9" cy="85.5" r="1.25"/><circle cx="163.3" cy="84.9" r="1.25"/><circle cx="165.1" cy="85.8" r="1.25"/><circle cx="162.1" cy="86.0" r="1.25"/><circle cx="163.4" cy="84.2" r="1.25"/><circle cx="164.0" cy="84.6" r="1.25"/><circle cx="172.1" cy="86.0" r="1.25"/><circle cx="167.2" cy="84.0" r="1.25"/><circle cx="161.5" cy="80.1" r="1.25"/><circle cx="158.4" cy="85.6" r="1.25"/><circle cx="158.3" cy="85.6" r="1.25"/><circle cx="156.4" cy="85.6" r="1.25"/><circle cx="158.1" cy="85.0" r="1.25"/><circle cx="165.9" cy="85.5" r="1.25"/><circle cx="170.1" cy="85.6" r="1.25"/><circle cx="158.9" cy="83.1" r="1.25"/><circle cx="155.7" cy="82.7" r="1.25"/><circle cx="172.9" cy="86.2" r="1.25"/><circle cx="152.1" cy="86.3" r="1.25"/><circle cx="152.1" cy="82.3" r="1.25"/><circle cx="163.7" cy="84.2" r="1.25"/><circle cx="157.2" cy="85.9" r="1.25"/><circle cx="157.1" cy="85.4" r="1.25"/><circle cx="167.4" cy="85.2" r="1.25"/><circle cx="153.9" cy="85.7" r="1.25"/><circle cx="154.0" cy="83.2" r="1.25"/><circle cx="152.1" cy="86.3" r="1.25"/><circle cx="167.5" cy="85.2" r="1.25"/><circle cx="172.5" cy="84.7" r="1.25"/><circle cx="159.3" cy="85.5" r="1.25"/><circle cx="152.0" cy="84.1" r="1.25"/><circle cx="167.9" cy="85.5" r="1.25"/><circle cx="162.3" cy="84.7" r="1.25"/><circle cx="161.1" cy="80.8" r="1.25"/><circle cx="212.7" cy="83.2" r="1.25"/><circle cx="212.4" cy="86.2" r="1.25"/><circle cx="196.2" cy="85.8" r="1.25"/><circle cx="200.7" cy="85.6" r="1.25"/><circle cx="228.2" cy="84.9" r="1.25"/><circle cx="234.8" cy="82.9" r="1.25"/><circle cx="225.1" cy="85.5" r="1.25"/><circle cx="212.8" cy="81.0" r="1.25"/><circle cx="199.6" cy="80.4" r="1.25"/><circle cx="234.7" cy="80.2" r="1.25"/><circle cx="227.0" cy="82.0" r="1.25"/><circle cx="227.3" cy="85.0" r="1.25"/><circle cx="220.9" cy="81.2" r="1.25"/><circle cx="236.6" cy="84.0" r="1.25"/><circle cx="210.1" cy="85.6" r="1.25"/><circle cx="234.5" cy="86.3" r="1.25"/><circle cx="225.3" cy="84.0" r="1.25"/><circle cx="203.3" cy="85.7" r="1.25"/><circle cx="234.5" cy="84.8" r="1.25"/><circle cx="214.0" cy="85.3" r="1.25"/><circle cx="233.0" cy="85.1" r="1.25"/><circle cx="234.0" cy="86.1" r="1.25"/><circle cx="226.5" cy="86.4" r="1.25"/><circle cx="216.1" cy="82.9" r="1.25"/><circle cx="207.6" cy="83.1" r="1.25"/><circle cx="211.2" cy="86.0" r="1.25"/><circle cx="227.3" cy="85.6" r="1.25"/><circle cx="224.7" cy="84.4" r="1.25"/><circle cx="230.6" cy="82.8" r="1.25"/><circle cx="236.8" cy="77.8" r="1.25"/><circle cx="210.7" cy="83.1" r="1.25"/><circle cx="229.0" cy="84.7" r="1.25"/><circle cx="235.5" cy="82.6" r="1.25"/><circle cx="225.1" cy="83.1" r="1.25"/><circle cx="223.0" cy="85.7" r="1.25"/><circle cx="224.1" cy="85.9" r="1.25"/><circle cx="195.8" cy="85.9" r="1.25"/><circle cx="234.1" cy="78.8" r="1.25"/><circle cx="197.0" cy="85.5" r="1.25"/><circle cx="229.7" cy="82.2" r="1.25"/><circle cx="231.8" cy="86.0" r="1.25"/><circle cx="220.8" cy="81.9" r="1.25"/><circle cx="197.5" cy="85.6" r="1.25"/><circle cx="214.8" cy="86.2" r="1.25"/><circle cx="223.7" cy="83.3" r="1.25"/><circle cx="230.9" cy="85.8" r="1.25"/><circle cx="222.6" cy="86.2" r="1.25"/><circle cx="195.2" cy="85.9" r="1.25"/><circle cx="230.8" cy="85.9" r="1.25"/><circle cx="195.6" cy="85.8" r="1.25"/><circle cx="210.7" cy="84.8" r="1.25"/><circle cx="221.0" cy="84.3" r="1.25"/><circle cx="236.2" cy="83.4" r="1.25"/><circle cx="223.6" cy="85.4" r="1.25"/><circle cx="206.3" cy="86.1" r="1.25"/><circle cx="233.8" cy="86.2" r="1.25"/><circle cx="227.0" cy="85.4" r="1.25"/><circle cx="212.3" cy="81.3" r="1.25"/><circle cx="206.2" cy="85.8" r="1.25"/><circle cx="212.4" cy="84.8" r="1.25"/><circle cx="233.3" cy="86.2" r="1.25"/><circle cx="234.2" cy="83.9" r="1.25"/><circle cx="227.6" cy="81.8" r="1.25"/><circle cx="226.7" cy="82.1" r="1.25"/><circle cx="231.8" cy="85.0" r="1.25"/><circle cx="199.8" cy="80.3" r="1.25"/><circle cx="202.6" cy="86.0" r="1.25"/><circle cx="233.9" cy="84.9" r="1.25"/><circle cx="233.5" cy="84.6" r="1.25"/><circle cx="220.5" cy="85.3" r="1.25"/><circle cx="223.8" cy="85.7" r="1.25"/><circle cx="195.3" cy="85.6" r="1.25"/><circle cx="220.4" cy="85.2" r="1.25"/><circle cx="207.9" cy="81.2" r="1.25"/><circle cx="231.5" cy="80.0" r="1.25"/><circle cx="230.0" cy="86.0" r="1.25"/><circle cx="238.3" cy="79.7" r="1.25"/><circle cx="212.6" cy="83.5" r="1.25"/><circle cx="224.3" cy="84.5" r="1.25"/><circle cx="203.5" cy="84.1" r="1.25"/><circle cx="219.3" cy="81.1" r="1.25"/><circle cx="208.8" cy="86.2" r="1.25"/><circle cx="215.7" cy="86.2" r="1.25"/><circle cx="218.8" cy="86.2" r="1.25"/><circle cx="232.2" cy="85.6" r="1.25"/><circle cx="203.4" cy="82.8" r="1.25"/><circle cx="221.2" cy="82.3" r="1.25"/><circle cx="236.0" cy="85.6" r="1.25"/><circle cx="213.0" cy="86.4" r="1.25"/><circle cx="202.3" cy="84.2" r="1.25"/><circle cx="234.8" cy="84.7" r="1.25"/><circle cx="226.9" cy="85.4" r="1.25"/><circle cx="238.9" cy="85.9" r="1.25"/><circle cx="202.4" cy="78.2" r="1.25"/><circle cx="210.0" cy="82.9" r="1.25"/><circle cx="204.5" cy="86.3" r="1.25"/><circle cx="215.9" cy="83.2" r="1.25"/><circle cx="200.8" cy="84.6" r="1.25"/><circle cx="211.4" cy="85.9" r="1.25"/><circle cx="231.9" cy="84.6" r="1.25"/><circle cx="209.8" cy="84.9" r="1.25"/><circle cx="226.1" cy="80.4" r="1.25"/><circle cx="231.3" cy="82.9" r="1.25"/><circle cx="206.7" cy="84.8" r="1.25"/><circle cx="224.6" cy="86.1" r="1.25"/><circle cx="235.6" cy="83.0" r="1.25"/><circle cx="217.7" cy="80.2" r="1.25"/><circle cx="238.4" cy="84.8" r="1.25"/><circle cx="211.9" cy="86.2" r="1.25"/><circle cx="222.1" cy="84.5" r="1.25"/><circle cx="202.1" cy="84.1" r="1.25"/><circle cx="202.9" cy="84.7" r="1.25"/><circle cx="203.1" cy="85.2" r="1.25"/><circle cx="223.2" cy="85.5" r="1.25"/><circle cx="202.6" cy="85.2" r="1.25"/><circle cx="225.1" cy="84.8" r="1.25"/><circle cx="207.2" cy="85.5" r="1.25"/><circle cx="226.3" cy="85.0" r="1.25"/><circle cx="225.3" cy="86.3" r="1.25"/><circle cx="235.0" cy="86.3" r="1.25"/><circle cx="232.1" cy="85.9" r="1.25"/><circle cx="217.2" cy="86.3" r="1.25"/><circle cx="229.9" cy="85.7" r="1.25"/><circle cx="200.7" cy="82.8" r="1.25"/><circle cx="227.9" cy="86.3" r="1.25"/><circle cx="211.8" cy="85.1" r="1.25"/><circle cx="211.5" cy="85.4" r="1.25"/><circle cx="212.5" cy="84.3" r="1.25"/><circle cx="216.2" cy="86.1" r="1.25"/><circle cx="227.3" cy="82.8" r="1.25"/><circle cx="215.0" cy="80.0" r="1.25"/><circle cx="230.7" cy="85.3" r="1.25"/><circle cx="229.5" cy="86.1" r="1.25"/><circle cx="223.0" cy="86.0" r="1.25"/><circle cx="229.7" cy="84.6" r="1.25"/><circle cx="225.2" cy="86.2" r="1.25"/><circle cx="196.7" cy="82.1" r="1.25"/><circle cx="207.6" cy="83.6" r="1.25"/><circle cx="239.0" cy="83.1" r="1.25"/><circle cx="213.3" cy="86.4" r="1.25"/><circle cx="239.2" cy="84.7" r="1.25"/><circle cx="196.3" cy="80.1" r="1.25"/><circle cx="213.3" cy="86.0" r="1.25"/><circle cx="230.5" cy="82.4" r="1.25"/><circle cx="236.5" cy="84.4" r="1.25"/><circle cx="234.5" cy="82.2" r="1.25"/><circle cx="206.7" cy="83.9" r="1.25"/><circle cx="227.2" cy="83.2" r="1.25"/><circle cx="202.7" cy="80.0" r="1.25"/><circle cx="210.4" cy="86.3" r="1.25"/><circle cx="212.4" cy="85.7" r="1.25"/><circle cx="222.5" cy="86.2" r="1.25"/><circle cx="206.9" cy="85.0" r="1.25"/><circle cx="220.8" cy="86.1" r="1.25"/><circle cx="233.7" cy="86.1" r="1.25"/><circle cx="235.4" cy="85.6" r="1.25"/><circle cx="212.5" cy="86.1" r="1.25"/><circle cx="218.5" cy="82.7" r="1.25"/><circle cx="234.6" cy="84.9" r="1.25"/><circle cx="233.3" cy="86.0" r="1.25"/></g>
<g fill="#e81818"><circle cx="44.9" cy="79.5" r="1.15"/><circle cx="44.7" cy="80.5" r="1.15"/><circle cx="44.7" cy="81.5" r="1.15"/><circle cx="44.6" cy="82.5" r="1.15"/><circle cx="45.1" cy="83.5" r="1.15"/><circle cx="44.8" cy="84.6" r="1.15"/><circle cx="44.9" cy="85.6" r="1.15"/><circle cx="45.3" cy="86.6" r="1.15"/><circle cx="46.0" cy="87.6" r="1.15"/><circle cx="44.4" cy="86.6" r="1.15"/><circle cx="45.4" cy="86.5" r="1.15"/><circle cx="44.6" cy="87.3" r="1.15"/><circle cx="45.5" cy="86.1" r="1.15"/><circle cx="54.1" cy="74.9" r="1.15"/><circle cx="54.0" cy="76.1" r="1.15"/><circle cx="54.3" cy="77.2" r="1.15"/><circle cx="54.0" cy="78.4" r="1.15"/><circle cx="54.7" cy="79.5" r="1.15"/><circle cx="53.9" cy="80.7" r="1.15"/><circle cx="53.7" cy="81.8" r="1.15"/><circle cx="54.4" cy="83.0" r="1.15"/><circle cx="54.4" cy="84.1" r="1.15"/><circle cx="55.5" cy="85.3" r="1.15"/><circle cx="55.4" cy="86.4" r="1.15"/><circle cx="54.0" cy="87.6" r="1.15"/><circle cx="54.6" cy="84.8" r="1.15"/><circle cx="54.4" cy="85.1" r="1.15"/><circle cx="55.1" cy="84.6" r="1.15"/><circle cx="54.9" cy="87.1" r="1.15"/><circle cx="55.1" cy="86.3" r="1.15"/><circle cx="55.3" cy="83.8" r="1.15"/><circle cx="184.8" cy="74.9" r="1.00"/><circle cx="184.7" cy="76.3" r="1.00"/><circle cx="185.0" cy="77.7" r="1.00"/><circle cx="184.6" cy="79.1" r="1.00"/><circle cx="184.6" cy="80.5" r="1.00"/><circle cx="185.2" cy="81.9" r="1.00"/><circle cx="184.3" cy="83.3" r="1.00"/><circle cx="184.8" cy="84.7" r="1.00"/><circle cx="184.7" cy="86.1" r="1.00"/><circle cx="186.2" cy="87.5" r="1.00"/><circle cx="185.0" cy="82.9" r="1.00"/><circle cx="184.2" cy="84.8" r="1.00"/><circle cx="184.7" cy="84.2" r="1.00"/><circle cx="185.1" cy="84.3" r="1.00"/><circle cx="184.9" cy="85.3" r="1.00"/><circle cx="186.2" cy="76.0" r="1.00"/><circle cx="186.3" cy="77.6" r="1.00"/><circle cx="186.2" cy="79.3" r="1.00"/><circle cx="185.7" cy="80.9" r="1.00"/><circle cx="186.5" cy="82.6" r="1.00"/><circle cx="186.0" cy="84.2" r="1.00"/><circle cx="187.0" cy="85.9" r="1.00"/><circle cx="185.2" cy="87.5" r="1.00"/><circle cx="185.7" cy="85.4" r="1.00"/><circle cx="187.0" cy="85.8" r="1.00"/><circle cx="186.4" cy="85.9" r="1.00"/><circle cx="185.5" cy="87.2" r="1.00"/><circle cx="192.9" cy="78.3" r="1.00"/><circle cx="192.5" cy="79.8" r="1.00"/><circle cx="192.8" cy="81.4" r="1.00"/><circle cx="192.0" cy="82.9" r="1.00"/><circle cx="191.7" cy="84.4" r="1.00"/><circle cx="191.8" cy="86.0" r="1.00"/><circle cx="192.7" cy="87.5" r="1.00"/><circle cx="193.3" cy="84.7" r="1.00"/><circle cx="193.0" cy="84.4" r="1.00"/><circle cx="193.1" cy="87.1" r="1.00"/><circle cx="194.5" cy="77.0" r="1.00"/><circle cx="194.5" cy="78.5" r="1.00"/><circle cx="194.6" cy="80.0" r="1.00"/><circle cx="193.5" cy="81.5" r="1.00"/><circle cx="194.2" cy="83.0" r="1.00"/><circle cx="193.8" cy="84.5" r="1.00"/><circle cx="194.1" cy="86.0" r="1.00"/><circle cx="194.8" cy="87.5" r="1.00"/><circle cx="193.5" cy="86.4" r="1.00"/><circle cx="193.2" cy="84.0" r="1.00"/><circle cx="195.0" cy="86.4" r="1.00"/><circle cx="193.3" cy="83.7" r="1.00"/></g>
</g>
<text x="2.1" y="10.8" font-size="11" font-weight="bold" fill="#000">A</text>
<text x="262.7" y="10.8" font-size="11" font-weight="bold" fill="#000">B</text>
<text x="1.7" y="134.1" font-size="11" font-weight="bold" fill="#000">C</text>
<text x="262.7" y="134.1" font-size="11" font-weight="bold" fill="#000">D</text>
</svg></body></html>
